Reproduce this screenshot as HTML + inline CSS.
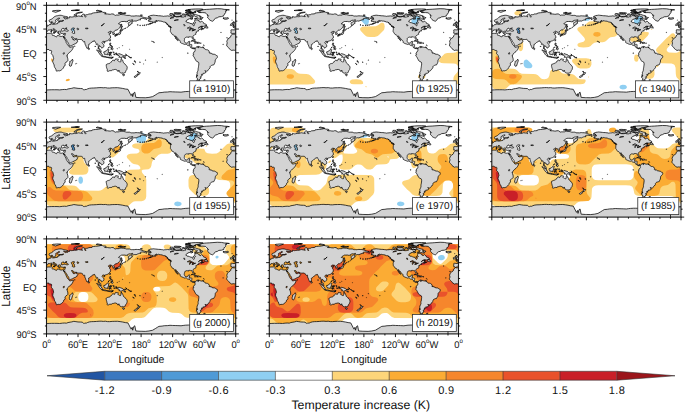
<!DOCTYPE html><html><head><meta charset="utf-8"><style>html,body{margin:0;padding:0;background:#fff;}body{width:685px;height:413px;overflow:hidden;position:relative;font-family:"Liberation Sans",sans-serif;}svg{position:absolute;left:0;top:0;}</style></head><body>
<svg width="685" height="413" viewBox="0 0 685 413" font-family="Liberation Sans, sans-serif" text-rendering="geometricPrecision">
<defs>
<clipPath id="pc"><rect x="0" y="0" width="360" height="180"/></clipPath>
<path id="landg" d="M-5.8 54.1L-6.3 54.8L-7.5 56.4L-9.4 57.6L-9.7 60L-10.5 61L-12.9 62.1L-14.5 63.9L-16 66L-17 69L-16.3 70.5L-16.5 73.5L-17.4 75.3L-16.8 77L-15.5 78.5L-14.5 79.4L-13.2 80.7L-12.2 82.4L-10.5 83.7L-7.6 85.6L-5 84.9L-2 85.2L1 84L3 83.6L4.8 84L5.9 85.7L7 85.6L8.5 85.5L9.6 86.2L9.8 87.7L9.3 90L9 91.5L11 93.8L12 95L12.3 96.1L13.1 98.8L13.6 101.2L12.5 103.5L11.8 106.8L12.6 109L13.5 111L14.5 112.9L14.9 116L15.8 118L16.6 119L17.9 121.5L18.2 122.8L18.4 124.2L19.6 124.8L20.7 124.4L22.5 124L24.8 124.2L25.7 123.8L27.2 123.3L28.6 122.3L30.1 121L31.5 119.3L32.5 118.3L32.7 116.5L32.9 115.9L35 114.6L35.5 113.4L35.4 111.5L35 110L36.5 108.8L37.4 107.6L39.3 106.6L40.6 105.2L40.7 102.5L40.4 100.5L39.5 98L39.2 96.8L38.9 95.5L39.6 94.3L40.3 92.7L41.6 91.6L42.6 90.4L44 88.9L46 87.7L47.8 85.6L49 84L50.1 81.9L51 79.6L51.2 78.2L49.5 78.6L48 78.8L46.5 79.2L45 79.6L44 79.5L43.3 78.4L42.7 77.5L41.6 76.5L40.8 75.5L39.7 74.6L39.2 73.5L38.5 71.9L37.4 70.4L37.2 69L36.9 68L35.6 66.1L35.2 65.2L34.2 63.5L33.6 62.3L32.6 60.1L32.3 58.8L31 58.4L29.7 58.8L28 59L25.2 58.4L23 57.4L21.5 57.2L20.1 57.7L20 59L19.1 59.7L17 59L15.6 58.5L15.2 57.7L13.1 57.1L11.5 56.9L10.2 55.7L11.1 54.8L10.8 53.5L10.2 52.8L9.5 52.7L8 53.1L5 53.2L3.1 53.2L1 53.5L-1.2 54.3L-2.2 54.9L-4.5 54.8L-5.8 54.1ZM49.3 102L48.5 103.5L47.7 104.6L46.3 105.7L44.9 106.2L44 106.7L44.4 108.5L43.9 110.2L43.3 111.6L43.6 113.4L44 114.9L45.4 115.6L47.1 114.9L47.7 113L48.6 110.5L49.4 108L49.8 106.8L50.5 105.5L50 103.5L49.3 102ZM-9.4 47L-8.98 47.4L-9 48.1L-8.8 48.8L-8.8 49.2L-9 50.2L-9.4 50.6L-9.5 51.3L-9.3 51.6L-8.8 51.7L-8.7 52.3L-8.9 53.1L-8.4 53L-7.9 53.2L-7.5 52.9L-6.5 53.1L-6.2 53.6L-5.9 54L-5.4 54.1L-5 53.7L-4.4 53.3L-2.1 53.3L-1.4 52.6L-0.7 52.4L-0.5 51.7L0.1 51.3L-0.3 50.7L0.1 49.9L0.7 49.3L0.8 49L2.1 48.8L3 48.1L3 47.5L3.1 46.9L4.6 46.6L6.5 46.9L7.4 46.3L7.9 46.2L8.4 45.8L8.9 45.6L9.7 46L10.2 46.1L10.5 47.1L11.2 47.6L12.1 48.3L12.9 48.7L13.6 48.8L14.1 49.2L14.7 49.4L15 49.8L15.4 50L16.1 51L15.9 51.2L15.7 51.8L15.7 52.1L16.1 52L16.6 51.2L17.1 51.1L17.2 50.6L16.4 50.2L16.9 49.6L17.7 49.7L18.3 50.2L18.5 49.8L18.4 49.6L17.5 49.1L16.8 48.8L15.9 48.5L16.2 48.3L15.9 48.04L15.1 48.05L14 47.2L13.5 46.4L12.6 45.9L12.3 45.4L12.4 45.1L12.3 44.6L13.7 44.4L13.68 44.52L13.66 44.86L13.95 45.2L14.3 44.8L14.9 44.9L14.9 45.3L15.4 45.7L15.2 45.8L16 46.5L16.9 46.8L17.5 47L18.5 47.5L18.9 47.7L19.4 48.1L19.5 48.3L19.4 48.6L19.3 49.3L19.4 49.7L19.96 50L19.98 50.3L20.2 50.4L20.2 50.7L20.7 51.2L21.1 51.7L21.3 52.4L21.7 53.2L22.5 53.6L23.2 53.6L22.8 52.7L23.4 52.6L23.1 52.1L24 52.3L24 51.8L23.3 51.2L23 51L23.4 50.8L22.8 50.3L22.6 49.7L22.8 49.5L23.7 49.3L25 49.1L26 49.2L26.6 49.6L26.2 50.5L26.8 51L26.3 51.8L27 52.3L27.6 53.3L28.7 53.3L29.7 53.9L30.4 53.7L30.6 53.3L31.7 53.4L32.5 53.9L33.5 53.8L34.6 53.2L35.8 53.3L36.2 53.4L36.1 54.2L35.9 54.6L35.9 54.8L35.5 56.1L35.1 56.9L34.9 57.2L34.6 58.5L34.3 58.8L32.99 59L32.3 58.7L32.4 60.1L33.1 61.6L33.9 62.4L34.2 62.2L34.4 61.7L34.6 60.9L34.9 60.5L34.8 61.4L34.6 61.9L35.1 61.9L35.6 62.6L36.2 63.4L36.6 64L36.9 64.4L37.2 64.9L37.2 65.1L37.5 65.7L38 65.9L38.5 66.3L39 67.4L39.1 68.7L39.8 69.7L40.2 69.8L40.9 70.5L41.2 71.3L41.8 72.2L42.3 72.5L42.3 72.9L42.6 73.2L42.8 73.7L42.8 74.1L42.7 74.3L42.8 74.7L42.6 74.8L42.9 75.2L43.1 75.9L43.3 76.2L43.2 76.8L43.5 77.4L44 77.4L44.5 77.3L45.1 77.1L45.4 77L45.9 76.7L46.7 76.6L47.4 76.4L47.9 76L48.2 76.1L48.7 76L49.6 75.3L52.2 74.1L52.4 73.6L53.1 73.3L53.6 73.3L54.2 73L54.8 73L55.3 72.8L55.4 72.4L56.5 71.9L56.6 71.4L57.7 71.1L57.8 70.9L57.7 70.3L57.8 69.8L58 69.5L58.5 69.6L58.9 68.9L59.3 68.6L59.8 67.7L59.5 67.3L58.7 66.4L58.1 66.3L57.4 66.1L56.4 65.1L56.5 64.7L56.4 63.6L56.1 63.9L55.4 64.6L54.7 65.2L54 65.9L52.6 65.8L51.8 66L51.4 65.4L51.6 64.2L51 64L50.8 65.2L50.5 64.7L50.2 64.4L50.1 64.1L50.2 63.3L49.5 62.9L49.3 62.5L48.8 62.3L48.4 61.4L48 60.5L47.3 59.94L47.97 60.02L48.6 60L48.9 59.7L49.6 60L50.1 59.9L50.9 61.2L51.5 62.1L52.5 62.4L53.5 63.2L54.7 63.5L55.7 63L56.5 62.9L56.97 63.03L57.4 64.3L58.5 64.4L59.6 64.6L61.5 64.9L62.9 64.8L64.5 64.8L66.4 64.6L67.1 65.3L67.4 66.1L68.2 66.3L69.3 67.2L69.6 67.5L69.2 67.9L70.5 69.1L71.2 69.2L72.6 68.6L72.8 69.6L72.8 70.8L73.1 72.1L73.5 74L74.4 75.4L74.6 75.4L74.9 77.3L75.4 78.2L75.7 78.7L76.1 79.7L76.6 81.1L77.5 82L77.9 81.7L78.3 81.1L79.2 80.8L78.9 80.5L79.3 79.7L79.9 79.6L79.9 77.9L80.3 77L80.2 76.2L80 74.9L80.3 74.1L80.8 74.1L81.7 73.7L82.2 73.4L82.2 73L83.2 72.3L83.9 71.7L85.1 70.5L86.5 69.8L88.2 68.3L88.9 68.3L89 67.9L89.7 68.1L89.8 68L90.3 68.2L90.6 67.6L90.5 67.2L91.4 67.2L92 68.3L92.1 68.8L92.4 69.3L93.1 70.1L93.7 70.3L93.5 70.6L94.3 71.8L94.5 72.7L94.2 74L94.8 74.2L95.4 74.3L96.5 73.6L97.2 73.1L97.6 73.9L97.8 75.2L98.1 76.4L98.5 76.9L98.4 78L98.8 78.6L98.5 79.3L98.6 80.1L98.3 81L98.2 81.6L98.3 82.2L98.5 81.6L99.5 82.7L99.7 83.2L100.1 83.5L100.3 84L100.2 84.7L100.6 85.2L100.7 86.1L101.3 86.7L101.4 87.2L102.6 88.1L103.5 88.8L104.2 88.4L103.9 87.5L103.5 87.2L103.3 86.3L103.4 85.8L103.4 85.1L102.4 83.9L102.1 83.8L101.6 83.3L101 83.1L100.5 82.6L100.3 81.7L99.9 80.8L99.2 80.8L99.5 79.1L100 77.7L100.1 76.6L100.9 76.6L100.8 77.4L101.7 77.4L102.6 77.8L103 78.9L103.5 79.4L104.3 79.5L105.1 80.1L104.8 80.8L105.2 81.4L106.4 80.5L107.2 79.6L108.4 78.9L109.2 78.3L109.3 76.6L108.9 74.7L108.3 74L107.4 73.3L106.4 72L105.7 70.9L105.9 70.2L106.6 69.3L107 68.5L108.5 68.3L109.9 68.6L109.6 69L109.9 69.7L110.4 69.7L110.8 68.6L111.8 68.4L113.2 67.9L114 67.7L114.8 67.4L115.9 67.2L117.3 66.4L118.7 65.4L119.6 64.1L120.5 62.8L121 62L121.7 61.8L122 60.1L121.5 59.8L121.9 59L121.9 58.3L120.9 57.5L120.6 56.6L120.3 55.7L119.2 55.1L120.2 54.1L121.1 53.4L122.5 53.1L122.5 52.6L120.8 52.2L119.7 52.9L118.9 52.6L118.2 52.4L117.7 51.8L117.6 51.1L118.6 50.8L119.6 50.1L120.6 49.4L121.6 49.1L122.2 49.6L121.4 50.4L121.2 51.2L121.6 51L122.9 50.3L124.3 50.1L124.8 50.3L125.2 51.5L125.5 52.3L126.8 52.7L126.2 53.2L126.8 54L126.3 54.7L126.5 55.6L128.2 55L129.3 54.8L129.5 54L129.2 52.6L128.3 51.4L127.5 50.7L128 50.2L129.2 49.4L129.7 49.1L129.7 49L130.8 47.7L132.3 46.7L134 47.1L135.5 46L137 44.4L138.6 43L140.1 41.6L140.5 40L140.6 38.8L141.4 37.8L141.3 36.9L139.9 35.8L138.8 35.8L137 35.2L138.2 33.6L140.5 32.2L141.5 31.5L143 30.7L145.6 30.7L149 30.6L151.3 31.2L152.8 31L154.9 30.8L154.2 30.2L156.7 28.6L159.2 28.2L160 28.4L162.3 27.6L164 27.4L163.6 28.9L161.9 29.7L160.1 30.7L158.2 32L156.8 32.2L155.9 33.2L155.6 34.5L156 36.2L156.4 37.5L156.7 39L158.3 38L158.5 37.1L160 36.8L160.3 35.8L161.9 35L162.1 33.9L163.5 33.8L163 32.4L162 31.8L163.3 30.5L164.8 30.1L166.2 30.1L168 29.6L170.5 30L172.5 29L174.5 28.2L177 27.5L179.3 27.7L178.7 27L178.5 25.5L180 25.1L181.5 25L183 24.7L185 25.1L187 25.6L188.5 24.5L190.3 23.9L188 23.8L186 23.2L184 22.6L182 21.8L180 21.1L178.5 20.7L176 20.2L173 20.1L170.5 19.9L168 20.2L166.5 20.5L164 20.3L162 20.4L160 20.2L159.5 19.5L158 19.1L155 19.1L152 19.1L150 18.4L147 17.7L145 17.7L142 17.3L139.5 17.6L138.5 18.4L136 18.5L134 18.5L132.5 18.5L131.5 19.1L129.5 18.7L128.5 17.2L127 16.5L124 16.3L122 17L119 16.9L116 16.4L113.5 16.5L112 16.3L110.5 16L113 15.5L113.5 14.4L112 13.6L110 13.4L107.5 13.5L106.5 12.7L104 12.3L101 13.1L99 13.5L96 13.8L93 14L89.5 14.4L87 14.8L86.5 16.1L83 16.4L80.5 16.5L79 17.6L77.5 17.7L76 17.9L74.8 17.7L73.9 18.8L73.8 19.6L74.6 20.6L75 21.5L74.2 22.7L73.5 21.7L72.7 20.5L72.5 18.8L72.5 17.4L71.5 16.7L69.5 16.8L68.6 17.2L67.2 18.4L66.8 19.4L67 20.2L68.7 21.2L68 21.7L66 21L64 20.7L61 20.2L60 20.3L58 21.2L55 21.7L53 21.4L50 22L48 22.3L46 21.8L43.8 21.5L44.2 22.5L44 23.8L42 23.6L40.6 25.4L39.5 25.5L37.5 25.4L36.5 26L34.8 25.6L33.7 24.5L32.5 23L33.5 23.3L35.5 23.7L38.5 23.9L40.5 23.5L41 22.5L39 21.7L36 21L33 20.6L31 19.8L30 19.5L28.5 19.1L26 18.9L24.7 19L23 19.2L21 19.7L19 20L17.5 20.5L16 21.2L14.5 22L13.5 22.8L12.5 24L11.2 25.1L10 26L8.5 26.6L7 27.2L5.6 27.7L5 28.5L5 29.5L5.6 31.2L6.5 31.9L8 31.9L10 31L10.5 30.7L11.2 31.1L11.8 32.3L12.6 33.8L12.9 34.6L14.3 34.5L15.9 33.9L16.4 33.4L16.6 32.1L17.9 31.1L18.8 30.2L17.3 29.4L17.2 29L17.8 27.4L19.5 26.5L21.2 25.5L22.3 24.3L24 24.2L25.4 24.7L24.5 25.2L22.5 26.2L21.5 27.5L21.4 29.4L23 30.1L26 29.6L28 29.5L30.2 30.1L28 30.5L26 30.5L23.5 30.8L24.3 32.5L23.5 33L22 32.4L21 33.2L21 34.8L18 35.2L14 36L11 35.8L10 35L10.8 34.4L10.3 33.7L10.5 32.4L8.1 33.2L8.6 34.5L8.7 35.5L8.5 36.4L7 36.5L5 36.7L4.5 37.7L3.5 38.5L2.5 39L1.5 39.8L0 40.6L-1.6 40.3L-1.5 41.3L-3 41.2L-4.7 41.4L-4.5 42L-3 42.4L-2.2 42.8L-1.2 44L-1.2 45.4L-1.5 46.6L-3 46.6L-6 46.4L-8 46.3L-9.3 47ZM-5.7 39.9L-4.5 39.7L-3.4 39.4L-1 39.2L1.4 38.8L1 38.2L1.7 37.3L0.3 36.9L0.1 36.4L-0.5 35.6L-1.2 35.4L-1.6 34.4L-2.6 33.7L-2 32.9L-1.8 32.4L-3.1 32.3L-4.2 32.4L-3 31.4L-5 31.4L-5.5 32.2L-5.6 33.7L-6.1 33.2L-5.8 34.3L-4.9 34.9L-5 35.2L-3.6 35.4L-3 36.6L-4.6 36.7L-4 37.6L-5.1 38.2L-3.3 38.6L-5.7 39.9ZM-6 37.8L-6.2 36.1L-5.7 35.4L-6.2 34.8L-7.3 34.7L-8.3 34.9L-8.5 35.5L-10 35.8L-9.6 36.6L-9.8 37.4L-10.3 38.1L-9.4 38.4L-8.3 38.3L-6.8 37.8L-6 37.8ZM-22 26.2L-20.8 26.2L-18.7 26.5L-14.9 25.6L-13.6 24.9L-14.7 24.2L-14.5 23.6L-16.2 23.5L-17.8 24L-19 23.7L-20.6 24.3L-22.1 23.6L-23.4 23.8L-24.3 24.4L-22.2 24.6L-23.5 25.1L-22.8 25.5L-22 26.2ZM-44 30.2L-42.2 29L-41 27.4L-40.2 25.8L-38 24.4L-35 23.7L-32 21.8L-27 21.4L-22.5 19.8L-23 18.8L-21.8 17.5L-22.2 16.7L-20.5 16L-19.5 14.8L-19 13.2L-18.4 12L-19.8 11.2L-17 10.1L-18.8 9.2L-12 8.6L-16 8L-22 7.7L-27 6.7L-35 6.4L-45 7.1L-50 7.5L-56 7.8L-60 8.1L-63 8.7L-65 9.3L-67 9.9L-71.5 11L-73.2 11.6L-69.5 12.4L-66.7 12.9L-71 13.1L-68.5 13.9L-62.6 13.8L-58 14.2L-56.5 15.1L-55.6 16.1L-54.8 17.4L-52.7 18.5L-54 19L-53.6 19.7L-51.3 20L-52.3 21L-53.5 22L-53.5 23L-53 24L-51.6 25.2L-50.3 27L-49 28.2L-47.2 29.1L-45.5 29.8L-44 30.2ZM11 11.2L13.5 12.2L15 12.6L17 13.4L20 12.5L22 11.7L24 11L27 9.9L22.5 9.6L18.5 9.7L16 10L12.5 10.2L11 11.2ZM52 18.6L55.8 19.4L57.5 19.3L56 18.5L56.5 17.3L58.5 16L61 14.9L64.5 14.2L68.5 13.1L66 13L62 13.4L58.5 14.2L56 15.5L55 16.8L53.5 17.4L52 18.6ZM94.5 10.4L99 11.3L101.5 12L105.5 11.7L104 10.8L100 10L97 9.4L94.5 10.4ZM136 14.7L138 15.2L141 16.1L143.5 16L149.5 14.9L146 14.7L143 14.2L139 14L136 14.7ZM47 9.8L50 10.1L56 10L62 9.7L63 8.9L58 8.7L52 9.1L47 9.8ZM178.5 18.8L180.5 19.1L182.5 18.8L180.5 18.4L178.5 18.8ZM141.9 44L142.7 43.4L143.5 43.8L143 42.5L142.6 41.5L143.4 40.7L144.6 41.1L143.2 38.3L143.2 36.8L142.6 35.6L142.2 35.8L142.6 36.3L141.7 36.7L141.9 38.5L142.1 40.8L141.9 42L141.9 44ZM140 48.6L141.2 48.2L141.4 47.4L143.3 48L145.5 46.7L144.6 46.2L143.2 45.6L141.9 44.5L141.6 44.8L141.4 46.5L140.4 46.7L139.9 47.4L140 48.6ZM141.4 48.6L140.3 48.8L139.9 49.4L140 50L139.7 51.1L138.9 52.2L138 53L136.9 52.7L136.7 53.3L135.7 54.5L134.6 54.3L132.6 54.6L131.2 55.6L130.9 56L132 56.1L133.9 55.6L135.1 55.4L135.2 56.2L136 56.5L136.8 55.7L137.3 55.4L138.8 55.4L139.9 55L140.7 54.3L140.9 53L141 51.7L141.9 51L141.9 50L141.4 48.6ZM129.7 56.8L130.2 57.6L130.2 58.8L131.1 59L131.5 58.1L131.8 56.6L131 56.1L130.4 56.4L129.7 56.8ZM132.3 56.8L132.9 57.3L134.1 56.7L134.8 56.2L134.2 55.7L132.6 56L132.3 56.8ZM120.1 67L120.7 68L121.2 67.5L121.9 65.2L121.3 64.7L120.1 66.1L120.1 67ZM108.6 70.7L109.5 71.8L110.6 71.4L111 70.3L110.4 69.8L109.3 70.1L108.6 70.7ZM79.7 83.1L79.9 83.5L80.6 84.1L81.6 83.5L81.8 82.5L81.2 81.4L80.1 80.2L79.9 81.5L79.7 83.1ZM120.6 71.5L120.4 72.4L120 74.1L120.6 75.5L121 76.2L122.5 76.8L123.3 76.4L124.1 77L122.7 75.7L121.7 75.7L121.8 74.1L122.3 73L122.2 71.5L120.6 71.5ZM122 83.1L122.3 82.7L123.9 83.1L124.2 83.8L125.4 84.4L126.1 83.9L126.6 82.7L126.3 81.5L125.4 80.2L124.2 81.9L123 82.1L122 83.1ZM122 79.6L122.5 80.3L123.6 80.7L124.9 80L125.7 79L125.5 77.8L124.3 77.5L123.1 79L122 79.6ZM117.2 81.6L117.8 81.2L119 79.6L119.6 78.6L118.9 79.6L117.2 81.6ZM109 88.3L109 89.6L109.4 90.7L110.2 91.7L110.2 92.9L111.7 93L113 93.1L114.5 93.5L116.1 94L116.6 92.4L116.2 91.7L116.7 91L117.5 90.8L117.5 89.9L117.9 89L118.9 89.1L117.8 87.9L118 87.7L117.9 85.9L118.6 85.5L119.2 84.6L118.4 84.3L117.3 83.1L116.7 83.1L116.2 83.9L115.5 84.6L115.4 85.2L114.6 85.7L114.2 85.5L113.3 86.2L112.1 87L111.2 87.3L111 88.4L109.7 88.1L109 88.3ZM95.3 84.5L95.4 85L96.4 86.1L97.2 86.7L97.7 87.5L98.6 88.2L99.3 89.8L100.1 90.6L100.9 92.1L101.4 92.8L102.6 94.2L103.9 95L104.7 95.9L105.8 95.8L105.9 94.3L106.1 93.1L105.6 92.4L104.9 92.3L104.4 91.1L103.4 90.7L103.8 89.9L103.1 89.4L102.5 88.6L101.4 87.9L100.6 87.9L99.7 86.8L98.4 85.7L97.5 84.8L96.4 84.8L95.3 84.5ZM105.2 96.8L105.4 96.9L106.3 96.9L106.5 97.4L108.7 97.7L111 98.2L112.6 98.4L114.5 98.8L114.5 97.8L112.9 97.6L112.6 96.9L110.8 96.5L110.5 96.9L108.6 96.8L108.5 96.4L107.3 95.96L106.1 95.9L105.2 96.8ZM115 98.4L116.5 98.9L119 99.6L121 100L123.5 100.3L125 99.5L127 98.4L125 98.3L123 98.3L121 98.5L119 98.5L117 98.4L115 98.4ZM123.6 100.4L125 99.7L126.6 98.9L127 98.3L124.5 99.3L123.6 100.4ZM119.4 95.4L120.4 95.5L120.3 93L120.9 92.6L121.9 94.2L122.7 94.7L123.2 95.3L122.8 94L122.4 93.5L121.4 91.9L122.4 91L123.3 90.9L121.5 90.9L120.6 91.4L120.2 89.8L120.9 88.7L122.9 89.1L124 89.1L125.1 88.4L124.4 89.6L123.7 89.8L121.4 89.5L120 89.4L119.7 90.2L119.5 91.9L119 93.5L118.8 92.8L119.4 95.4ZM127.6 88.2L127.4 89L127.6 90.2L128.1 90.9L128.9 90.8L128.1 89.6L128.7 89.1L128.3 88.4L127.6 88.2ZM127.8 93.3L129 93.5L130.8 93.9L130 93.1L127.8 93.3ZM131 91.2L131.8 91.6L132.2 92.2L133.7 92.2L133.8 92.5L133.1 92.5L132 92.8L132.75 93.3L132.8 93.7L132.98 94.1L133.4 94L133.7 93.5L135.2 94.5L135.99 94.5L137.9 95.4L138.4 96.2L138.7 97.3L138 97.6L137.6 98.4L138.9 98.4L139.1 98.1L140.1 98.3L141 99.1L142.1 99.2L142.6 99.3L143.4 99L143.3 98.2L143.9 97.9L144.7 97.6L146 98.1L146.6 98.9L147.1 99.5L147.9 100.1L149.8 100.4L150 100.7L150.8 100.3L149.7 99.9L150 99.7L149.3 99.5L149.3 99.1L148.7 99.1L148.1 98L147.2 97.4L146.9 96.7L147.9 96.6L147.6 96.1L145.9 95.5L145.8 95.3L144.6 93.9L142.7 93.3L141 92.6L139.9 92.4L138.3 91.7L137.4 91.5L135.5 93.4L134.4 92.8L134.1 90.9L132.5 90.4L131.9 90.6L131 91.2ZM148.3 95.6L150.2 96.3L152.1 95.3L152.3 94.3L151.6 94.8L150.8 95.4L149.8 95.5L148.3 95.6ZM114.2 111.8L113.5 113L113.7 114.4L113.4 115.6L114.2 116.3L114 117.3L114.6 118.5L114.9 119.5L115 120.5L115.7 121.6L115.7 123.3L115 124.2L116 124.9L117.7 125.1L119 124.5L120 123.9L121.3 123.8L123.7 123.9L124.2 123L125.1 122.7L126.1 122.2L127.1 122.3L128.9 121.7L131.3 121.5L132.6 122L134.3 122.6L134.6 123.2L135.2 124.5L135.2 124.9L136.4 124.8L137.5 124.1L137.9 123.6L137.8 122.9L137.9 124.4L137.5 125L138.1 125.6L138.4 125.1L139.6 126.1L139.8 127.2L140.6 128L141.7 128.3L142.7 128.5L143.6 128.8L144.9 128.4L145 127.9L145.4 128.2L146.3 129L146.4 128.7L147.4 128.2L148.3 127.8L149.4 127.8L150 127.4L150.1 126.4L150.7 125.2L150.9 124.3L151.6 123.3L152.5 122.3L152.9 121.5L153.1 120.4L153.6 118.1L153.1 116.1L152.9 115.3L152.3 114.5L151.6 114.1L150.9 113.5L150.5 112.6L149.7 112.3L149.3 111.3L148.7 110.6L147.5 109.5L146.4 108.9L146.1 107.8L145.9 106.9L145.5 106.3L145.3 105.4L145.3 104.9L144.6 104.2L143.9 104.5L143.6 103.8L143.6 102.9L143 102.3L142.5 100.7L142.1 101.3L141.7 102.4L141.7 103.3L141.5 104.6L141.6 105.6L141.4 106.4L140.9 107.4L139.3 107.4L138.7 106.8L137.8 106.2L137 105.9L136.3 105.6L135.4 104.7L135.5 104.2L136 103.7L136.5 103.3L136.8 102.9L136.5 102L136 102.1L135.5 102L134.7 101.9L134.4 102L133.6 101.8L132.6 101.6L132 101.3L131.8 102.3L130.7 102.3L130.4 102.9L130.2 103.4L129.9 103.6L129.4 104.4L129.6 105L128.9 105L128.1 104.9L127.8 104.3L127 103.8L126.1 104.2L125.7 104.2L125.6 104.6L124.4 105.6L124 106.3L123.4 107.3L122.8 107L122.2 108.2L121.4 109.2L120.9 109.7L120.1 110L119 110L118.2 110.4L117.4 110.7L116.7 110.6L115.6 111.4L114.6 112L114.2 111.8ZM144.7 130.7L144.7 131.2L145.4 132.7L146 133.5L147 133.6L147.9 133.2L148.3 132.2L148.3 130.9L146.4 131.1L144.7 130.7ZM172.7 124.5L173.1 125.3L173.8 126.1L174.3 126.5L174.3 126.7L174.7 127.4L174.7 128L174.6 128.8L173.8 129.5L174.6 129.9L175.1 130.5L174.7 131.3L175.2 131.7L176 131.3L177 129.9L177.9 129.2L178.3 128.6L178.5 127.7L177.4 128L175.9 127.6L175.3 126.5L174.6 126.2L174.3 125.3L173.1 125.2L172.7 124.5ZM172.8 130.5L172.1 130.9L171.9 131.5L171.6 131.8L171.1 132.5L170.5 133L169 133.6L168.3 134.1L167 135.1L166.5 135.9L166.7 136.2L167.8 136.3L168.4 136.6L169.3 136.6L169.8 136.4L170.6 135.9L171.2 134.9L171.5 134.2L172.3 133.9L173.1 133.9L172.7 133.4L173.2 133L173.9 132.2L174.2 131.8L174.2 131.3L173.2 131.3L172.8 130.5ZM164 110.1L165 111.5L166.7 112.4L167.1 112.2L165.5 111.2L164 110.1ZM177.3 107.3L177.4 108.1L178.3 108.2L178.6 107.7L177.3 107.3ZM-168.1 24.3L-166.8 24.9L-166.4 25.3L-164.96 25.6L-163.5 25.4L-162.8 25.7L-162.5 25.4L-161.4 25.2L-160.8 25.2L-161.5 25.6L-160.96 25.8L-160.8 26.2L-161.5 26.5L-162.3 26.5L-163.1 26.9L-163.8 26.8L-164.6 26.9L-164.9 27.4L-165.7 27.9L-166.1 28.5L-165.4 28.9L-165.3 29.5L-164.7 29.7L-163.8 30.2L-162.5 30.01L-161.9 30.4L-162 31.3L-161.4 31.3L-160.4 30.9L-159.98 31.4L-159.7 31.1L-159.1 31.6L-158.5 31.2L-158.2 31.4L-157 31.1L-157.6 31.7L-157.7 32.4L-158.5 32.8L-158.7 33L-160.1 33.6L-160.6 34L-161.8 34.1L-162.9 34.7L-163.8 35L-164.9 35.4L-164.8 35.6L-163.1 35.3L-162.2 35L-161.2 34.6L-160.3 34.4L-159.6 34.4L-158.4 34L-158.1 33.5L-156.6 33.02L-156.3 32.6L-155.3 32.3L-154.2 31.9L-153.3 31.1L-154 30.6L-152.6 29.9L-151.9 29.3L-150.6 28.7L-150.3 29L-151.4 29.3L-151.9 30.3L-151.7 30.8L-150.6 30.6L-149.7 30.3L-148.6 30.1L-148 30.02L-148.2 29.3L-147.1 29.1L-145.9 29.5L-143.96 30L-142.6 29.9L-139.9 30.5L-137.8 31.5L-136.6 31.8L-135 31.8L-134.1 31.9L-133.5 32.8L-132.3 33.6L-131.1 34.8L-130.5 35.2L-130.5 35.7L-129.3 36.4L-129.1 37.2L-127.9 37.7L-127.99 38.3L-127.4 39.2L-125.6 39.6L-124.9 40L-123.3 40.5L-122.8 41L-122.5 41.8L-122.3 42.6L-122.6 42.9L-123.1 42L-124.6 41.6L-124.7 41.8L-124.4 42.3L-124.1 43.1L-123.9 44.5L-124.1 46.3L-124.5 47.2L-124.2 48L-124.2 48.9L-124.4 49.7L-123.9 50.2L-123.7 51.05L-122.95 51.9L-122.5 52.2L-122.5 52.4L-121.7 53.8L-120.7 54.8L-120.6 55.4L-120.4 55.6L-119.4 55.7L-119.1 55.9L-118.5 56L-118.4 56.3L-117.9 56.4L-117.3 57L-117.1 57.5L-116.7 58.4L-115.5 60.4L-114.9 60.7L-114.2 61.4L-114.2 61.9L-114.6 62.3L-115.1 62.3L-114.5 62.9L-113.8 63.1L-113.6 63.4L-113.5 63.2L-112.3 64L-112.1 64.5L-112.2 65.3L-111.7 65.5L-110.9 66L-110.3 66.6L-110 67.2L-109.9 67.2L-109.4 66.8L-109.4 66.6L-109.8 66.2L-110.2 65.7L-110.7 65.7L-110.7 65.2L-110.99 64.7L-111.3 64.3L-111.6 63.3L-112.2 62.8L-112.5 62.5L-112.8 62.2L-112.96 61.6L-113.1 61.6L-113.3 61.2L-113.4 61.2L-113.6 60.9L-114.3 60.2L-114.7 59.8L-114.9 58.6L-114.8 58.2L-114.2 58.5L-113.9 58.4L-113.1 58.8L-113.2 59.2L-112.8 60L-112.3 60.7L-112.2 61L-111.8 61.5L-111.2 62.1L-110.6 62.1L-110.4 62.8L-109.8 63.3L-109.3 63.6L-109.4 64.2L-109.3 64.4L-108.4 64.8L-107.9 65.5L-106.9 66.2L-106 67.2L-105.7 67.7L-105.6 68.1L-105.3 68.6L-105.3 68.9L-105.5 69.2L-105.4 69.5L-105.7 69.6L-105.5 70.1L-104.99 70.7L-103.9 71.3L-103.5 71.7L-102.5 72.02L-101.9 72.1L-101.7 72.4L-100.8 72.8L-99.7 73.3L-98.9 73.4L-98 73.9L-97.3 74.1L-96.6 74.3L-96.1 74.2L-95.3 73.9L-94.7 73.8L-93.9 74.1L-93.4 74.4L-92.2 75.5L-91.7 75.9L-91.2 76.1L-90.6 76.1L-90.1 76.3L-89.3 76.5L-88.5 76.8L-87.8 76.6L-87.5 76.7L-87.3 77L-87.4 77.1L-87.6 76.9L-87.7 77.1L-87.2 77.5L-86.7 77.9L-86.5 78.2L-85.7 78.9L-85.9 79.1L-85.7 79.2L-85.8 79.9L-85.7 80.1L-85.3 80.2L-85.1 80.4L-84.9 80.2L-84.98 79.9L-84.7 80.1L-84.6 80.4L-84.3 80.5L-83.9 80.7L-83.6 80.9L-83.6 81.2L-83.7 81.3L-83.5 81.6L-82.9 81.9L-82.8 81.7L-82.4 81.7L-82.1 81.8L-81.7 81.9L-81.5 82.3L-81.2 82.4L-81.1 82.2L-80.9 82.8L-80.3 82.6L-80 82.5L-80.5 81.9L-80.4 81.7L-80.2 81.7L-79.6 81.1L-78.9 81.6L-78.4 82L-78.2 82.5L-78.4 81.9L-78.2 81.7L-77.5 81.5L-77.4 81.3L-77.9 80.8L-78.5 80.6L-79 80.4L-79.6 80.4L-80.5 80.9L-80.9 81.1L-81.4 81.2L-81.7 81L-82.5 80.4L-83.4 79.6L-83.8 78.9L-83.9 78.6L-83.7 78.4L-83.7 78.1L-83.6 77.7L-83.5 77.6L-83.5 77.1L-83.6 76.9L-83.5 76.4L-83.5 75.8L-83.1 75L-83.4 74.7L-83.8 74.6L-84.4 74.2L-84.9 74L-85.4 74.1L-85.7 74.05L-86 74L-86.4 74.2L-86.9 74.2L-87.6 74.1L-87.9 74.1L-88.1 74.3L-88.6 74.3L-88.9 74.1L-88.7 74L-88.4 73.5L-88.2 73L-88.3 72.4L-88.3 71.5L-88.1 71.5L-87.8 71.7L-87.6 70.4L-87.4 69.7L-86.8 69.2L-86.8 68.7L-87.1 68.5L-87.7 68.5L-88.5 68.5L-89.6 68.7L-90.3 69L-90.5 69.3L-90.5 70.1L-90.8 70.7L-91.4 71.1L-92 71.3L-92.8 71.5L-93.5 71.6L-94.4 71.9L-94.8 71.4L-95.9 71.2L-96.3 70.7L-96.5 70.1L-97.2 69.4L-97.4 68.6L-97.7 68.1L-97.9 67.6L-97.8 67.1L-97.7 65.7L-97.5 65L-97.2 64.1L-97.4 63.3L-97.4 62.6L-97.1 62.2L-96.6 61.7L-95.6 61.3L-94.7 60.5L-93.8 60.3L-93.2 60.2L-92.5 60.4L-91.6 60.3L-90.9 60.9L-90.2 60.9L-89.8 60.7L-89.4 60.8L-89.2 60.7L-89.4 60.5L-89.4 60.1L-89.6 59.8L-89.2 59.7L-88.4 59.6L-87.5 59.7L-86.4 59.6L-85.8 59.8L-85.3 60.3L-85.1 60.4L-84.1 59.9L-83.7 60.1L-82.9 60.9L-82.7 61.4L-82.9 62.1L-82.7 62.5L-82.2 63.3L-81.7 64.1L-81.3 64.4L-81.2 64.8L-80.7 64.9L-80.4 64.8L-80.1 64.2L-80.1 63.8L-80.1 63.1L-80.5 62L-80.5 61.5L-80.98 60.8L-81.3 60L-81.5 59.3L-81.3 58.6L-80.9 58L-80.3 57.5L-79.2 56.8L-78.6 56.1L-78.1 56.1L-77.4 55.5L-76.2 55.1L-75.5 54.8L-75.7 54L-76 53.1L-75.9 52.8L-75.5 52.1L-75.1 51.7L-75.3 51.1L-75.5 50.5L-75.1 51.2L-74.9 51.1L-74.2 50.5L-74 49.9L-74 49.4L-73.7 49.1L-72.9 48.8L-71.1 48.5L-70 48.4L-70.1 48.2L-70.5 48.2L-70.8 47.7L-70.7 46.9L-70.1 46.3L-69.1 46L-67.8 45.5L-67.1 44.9L-66 44.7L-64.4 44.7L-66.2 45.5L-66.1 46.4L-65.4 46.5L-64.2 45.7L-63.3 45.3L-61 44.7L-59.8 44.1L-60.5 44L-61.5 44.1L-63.2 44.3L-64.5 43.8L-64.8 43L-65.1 41.9L-64.2 41.3L-65.1 40.8L-66.6 40.9L-68.7 41.7L-70.3 43L-71.1 43.2L-69.95 42.3L-68.5 40.9L-67.2 40.5L-66.4 39.8L-65.4 39.7L-63.9 39.7L-61.7 39.9L-60 39.8L-58.8 38.9L-57.1 38.6L-55.7 37.9L-55.8 36.7L-56.2 36.4L-56.9 36.2L-57.3 35.4L-57.98 35.1L-59.6 34.8L-60.5 34.2L-61.8 33.7L-61.4 33.03L-63.8 30.6L-64.6 29.7L-65.2 30.1L-66.2 31.2L-67.6 31.8L-68.4 31.2L-69.3 31.04L-69.6 28.9L-71.4 28.9L-72 28.1L-73.8 27.5L-74.7 27.8L-75.7 27.7L-77.4 27.4L-78.1 27.7L-77.8 29.2L-77.3 30.1L-78.5 31.2L-77.3 31.9L-76.6 32.8L-76.5 33.7L-78.2 34.9L-79.8 35.3L-79.1 35.9L-78.6 37.4L-79.1 38.5L-80 38.7L-81.4 37.8L-82.1 36.7L-82.4 35.7L-82.3 34.9L-85 34.7L-87.3 34L-88 33.5L-89 33.1L-90.9 32.7L-92.3 32.9L-92.8 32.2L-93.2 31.2L-94.7 31.1L-94.6 29.9L-94.2 29.1L-92.5 27.8L-90.8 27.1L-90.7 26.4L-87.9 25.8L-87 24.8L-86 23.8L-84 23.7L-81.5 23.2L-82 22.7L-81.2 21.3L-81.3 20.8L-82.6 20.3L-84.9 20.1L-86 21.2L-88 20.8L-88.7 19.6L-91.5 19.8L-92.9 19.1L-93.8 18.2L-95.2 18L-96.5 18.5L-96.5 19.9L-94.8 20.5L-95 21.3L-96 21.8L-98 21.4L-98.5 22.2L-101.5 22.3L-104 22L-106 21.2L-107.5 21.7L-110 22L-113.5 21.8L-115 21.2L-117.5 21L-120 20.6L-122.5 20.2L-124.5 19.9L-125 20.3L-126.5 20.5L-129 20.2L-130 20L-132 20.4L-134 20.5L-135.6 20.6L-137.5 21L-139 20.5L-141 20.3L-144 19.9L-147 19.8L-149.6 19.5L-152.3 19.2L-155 18.9L-156.8 18.7L-159 19.1L-162 19.4L-163.4 20.2L-166 21L-166.6 21.7L-164.5 21.8L-163.6 22.9L-161.8 23.8L-163 23.9L-164.5 23.4L-166.5 23.8L-168 24.4ZM-77.4 81.3L-77.9 82.8L-77.5 83.3L-77.3 84.2L-77.5 84.4L-77.3 85.3L-77.5 85.9L-77.1 86.2L-77.5 86.7L-77.9 87.3L-78.4 87.4L-78.7 87.7L-78.6 88.2L-78.9 88.3L-78.9 88.6L-79.5 89L-80.1 89.2L-80 89.6L-80.4 90.3L-80.6 90.9L-80.9 91.1L-80.8 91.97L-81 92.2L-80.4 92.7L-79.99 92.2L-79.8 92.7L-80.3 93.4L-81.1 94L-81.4 94.7L-80.9 95.7L-81.2 96.1L-80.5 96.5L-79.8 97.2L-79.4 97.9L-79 98.4L-78.1 100.4L-77.1 102.2L-76.3 103.5L-76.4 103.8L-76 104.6L-75.2 105.3L-73.4 106.4L-71.5 107.4L-71.4 107.8L-70.4 108.3L-70.2 109.8L-70.1 111.4L-70.4 113.6L-70.7 115.7L-70.9 117.6L-71.5 118.9L-71.4 120.1L-71.7 120.9L-71.4 122.4L-71.9 123.9L-72.6 125.5L-73.2 127.1L-73.6 127.2L-73.5 128.3L-73.2 129.3L-73.7 129.9L-74.3 133.2L-73.7 133.4L-73.4 132.1L-72.7 132.4L-73.2 134.5L-74.4 134.1L-74.7 135.8L-75.6 136.6L-74.8 136.3L-74 137L-73.4 138L-72.6 138.9L-73.4 139.3L-73.3 140.4L-72.3 140.7L-72.3 141.4L-71.9 142L-69.5 142.1L-68.6 142.3L-68.1 142.3L-68.8 141.8L-69.1 140.7L-68.7 140.3L-67.8 139.9L-67.2 138.7L-66 138.1L-65.6 137.2L-66.6 137L-67.6 136.3L-67.3 135.6L-66.5 135L-65.6 135L-65.3 134.5L-65.2 133.5L-64.4 132.9L-63.5 132.6L-63.8 132L-64.3 132.4L-64.98 132.1L-65.1 131.1L-64.7 130.8L-63.8 131.2L-62.7 131L-62.1 130.7L-62.3 130.2L-62.1 129.4L-62.3 128.8L-61.2 128.9L-59.2 128.7L-57.7 128.2L-56.8 126.9L-56.7 126.4L-57.4 125.98L-57.2 125.3L-58.5 124.4L-58.4 123.9L-57.8 124.5L-57.1 124.4L-56.2 124.9L-55.7 124.8L-54.9 125L-53.8 124.4L-53.4 123.8L-52.7 123.2L-52.3 122.2L-51.6 121.8L-50.7 120.98L-49.6 119.2L-48.9 118.7L-48.7 118.2L-48.5 117.2L-48.6 116.6L-48.5 115.9L-47.6 114.9L-46.5 114.1L-45.4 113.8L-44.6 113.4L-43.1 112.97L-41.99 112.97L-41.8 112.4L-40.9 111.9L-40.8 110.9L-39.8 109.6L-39.6 108.3L-39.3 107.9L-38.95 105.7L-39 103.8L-38.7 103.1L-38.4 103L-37.7 102.2L-37 101L-35.6 99.6L-35.1 99L-34.7 97.3L-34.9 96.7L-35.2 95.5L-35.6 95.1L-36.5 95.1L-37.2 94.8L-38.5 93.7L-39.98 92.9L-41.5 92.9L-43.4 92.4L-44.6 92.7L-44.4 92.1L-44.9 91.6L-46.6 90.9L-47.8 90.6L-48.6 91.2L-48.6 90.2L-50.4 90.1L-50.7 89.8L-49.9 89L-49.97 88.3L-50.5 88.1L-51.1 86.3L-51.3 85.8L-51.7 85.8L-51.8 85.4L-52.9 84.6L-53.6 84.4L-53.96 84.24L-55 84L-55.9 84.2L-57.1 84.03L-58.1 83.2L-58.5 83.2L-58.5 82.7L-59.1 82L-59.8 81.6L-60.2 81.4L-60.7 81.4L-60.8 80.6L-61.6 80.1L-62.4 80.1L-62.7 79.6L-61.9 79.3L-63.1 79.3L-64.3 79.4L-64.3 79.6L-64.9 79.9L-65.7 79.8L-66.2 79.4L-67.3 79.5L-68.2 79.4L-68.2 79.1L-68.9 78.6L-69.6 78.5L-69.9 77.8L-70.3 78.2L-70.2 78.6L-71.4 79.03L-71 80.1L-71.3 80.9L-71.7 80.9L-72 80.1L-71.6 79.6L-71.6 79.03L-71.9 78.6L-71.3 78.2L-71.1 77.9L-71.4 77.6L-71.8 77.6L-72.2 78.05L-73.4 78.8L-74.2 78.7L-74.3 78.9L-74.9 78.9L-75.5 79.4L-75.7 80.6L-76.1 80.7L-76.8 81.4L-77.4 81.3ZM-68.6 142.6L-69.3 142.5L-70.3 142.9L-71.1 143.1L-74.5 142.8L-74 143.3L-72.3 144.5L-70.8 145L-69.2 145.5L-67.6 145.6L-66.5 145.3L-65.5 145.2L-65.1 144.7L-66.4 144.4L-67.7 143.9L-68.3 143.1L-68.6 142.6ZM-61.2 141.9L-59.9 142L-58.5 142L-57.8 141.6L-58.6 141.1L-60 141.3L-61.2 141.9ZM-80 16.4L-78.8 17.6L-80.7 17.9L-80.6 17.3L-82.3 16.2L-84.9 16.7L-85.8 17.5L-86.6 16.8L-85.8 16.2L-88.4 16.5L-89.4 16.9L-90.2 17.8L-89.9 18.8L-88.5 18.8L-89.5 19.2L-88.7 19.6L-84.9 20L-81.3 20.3L-79.5 20.1L-78 20.2L-76.9 21.1L-74.8 21.4L-72.9 22.3L-72.7 22.7L-74.3 24L-73.9 24.5L-76 24.7L-77.9 24.7L-78.6 25.4L-77.7 25.8L-74.8 25.3L-72.2 26L-71 25.8L-68.8 26.3L-66.3 27.1L-65 27L-65.3 25.6L-68.1 24.3L-68 23.7L-66.7 23.6L-65.1 24.6L-63.9 25L-62.2 23.8L-61.9 23.1L-63.4 23.1L-64.9 22.2L-66.4 21.9L-68.8 21.3L-66.8 20.8L-67.9 19.9L-68.8 19.5L-71.2 19.1L-74.2 18.2L-76.3 17.2L-80 16.4ZM-78 13.5L-75.4 13.3L-79 12.4L-75.5 11.6L-76.2 11L-75.5 10.8L-71.3 10.2L-68.1 9.6L-65 8.7L-62 7.7L-64 7.1L-70 6.9L-77 7L-84 7.4L-91 8.2L-86 9L-90 9.4L-96 9.8L-95 10.6L-88 11.4L-87 12L-84 12.5L-88 12.9L-89.5 13.4L-81.5 13.6L-78 13.5ZM-80.3 15.4L-79.3 14.8L-80.6 13.8L-84 13.5L-89 13.8L-92 13.4L-95 13.1L-96 13.7L-92.8 14.2L-92.8 15L-91 15.2L-88 15.6L-84 15.5L-80.3 15.4ZM-118 20.3L-115.7 20.5L-113 21.5L-110 21.1L-106 21L-102 20.7L-101.5 20L-105 19.2L-105.5 17.5L-106.5 16.8L-107.5 16.7L-112 17L-114.6 16.6L-117.7 17.4L-119 18.4L-117.5 18.7L-118.5 19.1L-116 19.3L-117.4 19.9L-118 20.3ZM-125 18.5L-123.2 18.9L-120.8 18.5L-120.5 17.5L-118.5 16.7L-119.6 15.9L-121.5 15.6L-124.9 15.7L-124.5 16.5L-125.6 17.7L-125 18.5ZM-117.3 14.2L-117 15.2L-113 15.6L-110 15.4L-106 15.5L-103.5 14.9L-106 14.1L-110 14L-114 13.7L-117.3 14.2ZM-95 9.1L-95 10.5L-92.5 11.5L-89 11.7L-86 11L-87 10.2L-88.5 9.5L-92 8.7L-95 9.1ZM-97 17.1L-98 16.2L-101 16.6L-102.5 17.2L-101 18L-98.5 18.7L-96.5 17.8L-97 17.1ZM-93.5 16.1L-95.5 16.3L-94.5 17.4L-92.5 17.7L-90.3 16.9L-90.5 16.1L-93.5 16.1ZM-86.5 25.7L-85.8 26.4L-84.6 26.7L-83.1 25.9L-81.2 25.6L-83.4 24.6L-85.9 24.3L-86.5 25.7ZM-59.4 42.4L-58.4 42.4L-56.3 42.4L-55.4 43.1L-54.2 42.6L-53 43.4L-52.6 42.5L-53.2 42L-53.7 41.4L-53.5 40.7L-55.8 40L-56 39.4L-55.5 38.4L-56.4 38.2L-57.4 39.3L-58 40.4L-59.3 41.5L-59.4 42.4ZM-123.5 41.5L-124.5 40.6L-125.5 40L-127.3 39.4L-128.4 39.2L-126.8 40.3L-125.5 41L-124.5 41.4L-123.5 41.5ZM-84.97 68.1L-83.9 67.8L-83.5 67.8L-82.8 67.3L-81.8 67.4L-82.2 67.6L-81.8 67.8L-80.5 68L-80.2 68.2L-79.3 68.4L-78.7 68.4L-78.5 69L-78.1 69.3L-77.5 69.3L-77.1 69.6L-77.8 70.1L-76.3 70.05L-75.6 70.1L-74.96 70.1L-74.3 69.95L-74.2 69.7L-74.9 69.3L-75.6 69L-76.5 68.8L-77.1 68.3L-78.3 67.6L-79.7 67.2L-80.6 66.9L-81.4 66.9L-82.5 66.9L-83.8 67.2L-84.4 67.8L-84.97 68.1ZM-74.5 71.7L-73.4 71.8L-72.4 71.8L-71.7 72L-71.4 72.4L-70.7 71.6L-70 71.8L-69.2 71.6L-68.7 71.8L-68.3 71.4L-69.2 70.7L-69.95 70.4L-70.2 70.4L-70.8 70.1L-71.7 70.3L-72.6 70.1L-73.4 70.4L-72.8 70.9L-72.7 71.6L-73.4 71.5L-74.5 71.7ZM-77.6 71.5L-78.3 71.8L-77.5 72.1L-76.8 72.1L-76.4 71.8L-76.9 71.6L-77.6 71.5ZM-66.3 71.5L-67.1 71.5L-67.2 72L-66 72.03L-65.6 71.8L-66.3 71.5ZM-155.5 70.9L-154.8 70.5L-155.5 69.9L-155.9 69.7L-156 70.3L-155.5 70.9ZM12.4 52.1L15.1 53.3L15.6 51.7L12.4 52.1ZM8.4 51L9.6 50.9L9.8 49L8.2 49L8.4 51ZM8.6 48.6L9.4 48.6L9.5 47.1L8.6 47.5L8.6 48.6ZM23.5 54.6L24.5 55.1L26.3 54.7L23.5 54.6ZM32.3 55.3L33.9 55L34.6 54.3L32.3 55.3ZM150.5 92.7L151.5 93.3L153 94.8L152 93.5L150.5 92.7ZM154.5 95.2L155.2 96.6L155.8 96.5L154.5 95.2ZM-165.3 36.2L-165.65 35.92L-166.5 35.8L-167.35 35.92L-167.7 36.2L-167.35 36.48L-166.5 36.6L-165.65 36.48ZM-169 37.2L-169.29 36.95L-170 36.85L-170.71 36.95L-171 37.2L-170.71 37.45L-170 37.55L-169.29 37.45ZM-172.5 37.8L-172.79 37.55L-173.5 37.45L-174.21 37.55L-174.5 37.8L-174.21 38.05L-173.5 38.15L-172.79 38.05ZM-175.8 38.1L-176.09 37.89L-176.8 37.8L-177.51 37.89L-177.8 38.1L-177.51 38.31L-176.8 38.4L-176.09 38.31ZM179.2 38.2L178.91 37.95L178.2 37.85L177.49 37.95L177.2 38.2L177.49 38.45L178.2 38.55L178.91 38.45ZM174.5 37.2L174.21 36.95L173.5 36.85L172.79 36.95L172.5 37.2L172.79 37.45L173.5 37.55L174.21 37.45ZM-161.7 35L-161.93 34.79L-162.5 34.7L-163.07 34.79L-163.3 35L-163.07 35.21L-162.5 35.3L-161.93 35.21ZM148.38 44.22L148.02 44.17L147.36 44.44L146.78 44.85L146.62 45.18L146.98 45.23L147.64 44.96L148.22 44.55ZM151.2 43.12L150.89 43.04L150.36 43.24L149.9 43.59L149.8 43.88L150.11 43.96L150.64 43.76L151.1 43.41ZM154 41.46L153.73 41.39L153.33 41.55L153.03 41.86L153 42.14L153.27 42.21L153.67 42.05L153.97 41.74ZM155.92 39.37L155.64 39.35L155.28 39.59L155.05 39.96L155.08 40.23L155.36 40.25L155.72 40.01L155.95 39.64ZM158.82 98.52L158.57 98.06L157.69 97.45L156.7 97.04L156.18 97.08L156.43 97.54L157.31 98.15L158.3 98.56ZM161.35 99.75L161.09 99.38L160.32 99.02L159.47 98.88L159.05 99.05L159.31 99.42L160.08 99.78L160.93 99.92ZM161.6 98.9L161.42 98.62L161 98.5L160.58 98.62L160.4 98.9L160.58 99.18L161 99.3L161.42 99.18ZM167.9 105.8L167.78 104.95L167.5 104.6L167.22 104.95L167.1 105.8L167.22 106.65L167.5 107L167.78 106.65ZM169.2 107L169.05 106.58L168.7 106.4L168.35 106.58L168.2 107L168.35 107.42L168.7 107.6L169.05 107.42ZM169.7 109L169.58 108.72L169.3 108.6L169.02 108.72L168.9 109L169.02 109.28L169.3 109.4L169.58 109.28ZM-155.9 69.2L-156.02 68.99L-156.3 68.9L-156.58 68.99L-156.7 69.2L-156.58 69.41L-156.3 69.5L-156.02 69.41ZM-157.6 68.5L-157.72 68.29L-158 68.2L-158.28 68.29L-158.4 68.5L-158.28 68.71L-158 68.8L-157.72 68.71ZM-159.2 67.9L-159.29 67.69L-159.5 67.6L-159.71 67.69L-159.8 67.9L-159.71 68.11L-159.5 68.2L-159.29 68.11ZM-90.4 90.6L-90.58 90.18L-91 90L-91.42 90.18L-91.6 90.6L-91.42 91.02L-91 91.2L-90.58 91.02ZM-15.1 62L-15.22 61.79L-15.5 61.7L-15.78 61.79L-15.9 62L-15.78 62.21L-15.5 62.3L-15.22 62.21ZM-16.7 61.7L-16.79 61.49L-17 61.4L-17.21 61.49L-17.3 61.7L-17.21 61.91L-17 62L-16.79 61.91ZM-23.5 74L-23.65 73.72L-24 73.6L-24.35 73.72L-24.5 74L-24.35 74.28L-24 74.4L-23.65 74.28ZM-27.4 51.4L-27.58 51.19L-28 51.1L-28.42 51.19L-28.6 51.4L-28.42 51.61L-28 51.7L-27.58 51.61ZM93.1 78L93.01 77.29L92.8 77L92.59 77.29L92.5 78L92.59 78.71L92.8 79L93.01 78.71ZM57.8 110.2L57.71 109.99L57.5 109.9L57.29 109.99L57.2 110.2L57.29 110.41L57.5 110.5L57.71 110.41ZM55.8 111.1L55.71 110.89L55.5 110.8L55.29 110.89L55.2 111.1L55.29 111.31L55.5 111.4L55.71 111.31ZM-6.6 28L-6.72 27.79L-7 27.7L-7.28 27.79L-7.4 28L-7.28 28.21L-7 28.3L-6.72 28.21ZM54.6 77.5L54.37 77.29L53.8 77.2L53.23 77.29L53 77.5L53.23 77.71L53.8 77.8L54.37 77.71ZM39.6 96L39.51 95.72L39.3 95.6L39.09 95.72L39 96L39.09 96.28L39.3 96.4L39.51 96.28ZM-171.1 103.8L-171.28 103.59L-171.7 103.5L-172.12 103.59L-172.3 103.8L-172.12 104.01L-171.7 104.1L-171.28 104.01ZM-174.9 111.2L-174.99 110.99L-175.2 110.9L-175.41 110.99L-175.5 111.2L-175.41 111.41L-175.2 111.5L-174.99 111.41ZM-149.1 107.6L-149.22 107.39L-149.5 107.3L-149.78 107.39L-149.9 107.6L-149.78 107.81L-149.5 107.9L-149.22 107.81ZM-139.6 99L-139.72 98.79L-140 98.7L-140.28 98.79L-140.4 99L-140.28 99.21L-140 99.3L-139.72 99.21ZM134.8 82.5L134.71 82.22L134.5 82.1L134.29 82.22L134.2 82.5L134.29 82.78L134.5 82.9L134.71 82.78ZM145.1 76.6L145.01 76.32L144.8 76.2L144.59 76.32L144.5 76.6L144.59 76.88L144.8 77L145.01 76.88ZM158.5 83.1L158.41 82.89L158.2 82.8L157.99 82.89L157.9 83.1L157.99 83.31L158.2 83.4L158.41 83.31ZM138.4 80.5L138.31 80.29L138.1 80.2L137.89 80.29L137.8 80.5L137.89 80.71L138.1 80.8L138.31 80.71ZM-60.7 75.4L-60.79 74.98L-61 74.8L-61.21 74.98L-61.3 75.4L-61.21 75.82L-61 76L-60.79 75.82ZM-60.8 79.6L-60.95 79.39L-61.3 79.3L-61.65 79.39L-61.8 79.6L-61.65 79.81L-61.3 79.9L-60.95 79.81ZM-77.6 65L-77.72 64.43L-78 64.2L-78.28 64.43L-78.4 65L-78.28 65.57L-78 65.8L-77.72 65.57ZM-77 66L-77.12 65.65L-77.4 65.5L-77.68 65.65L-77.8 66L-77.68 66.35L-77.4 66.5L-77.12 66.35ZM-59.4 76.8L-59.46 76.66L-59.6 76.6L-59.74 76.66L-59.8 76.8L-59.74 76.94L-59.6 77L-59.46 76.94ZM-129.5 36.2L-129.68 35.49L-130.1 35.2L-130.52 35.49L-130.7 36.2L-130.52 36.91L-130.1 37.2L-129.68 36.91ZM-131.74 34.14L-131.73 33.69L-132.18 33.12L-132.81 32.77L-133.26 32.86L-133.27 33.31L-132.82 33.88L-132.19 34.23ZM-152.12 32.02L-152.55 31.85L-153.24 32.06L-153.79 32.53L-153.88 32.98L-153.45 33.15L-152.76 32.94L-152.21 32.47ZM-164.2 30L-164.43 29.72L-165 29.6L-165.57 29.72L-165.8 30L-165.57 30.28L-165 30.4L-164.43 30.28ZM-168.7 26.5L-169.08 26.22L-170 26.1L-170.92 26.22L-171.3 26.5L-170.92 26.78L-170 26.9L-169.08 26.78ZM-79 33.5L-79.29 33.15L-80 33L-80.71 33.15L-81 33.5L-80.71 33.85L-80 34L-79.29 33.85ZM-62.8 40.6L-63.15 40.39L-64 40.3L-64.85 40.39L-65.2 40.6L-64.85 40.81L-64 40.9L-63.15 40.81ZM-62.2 43.6L-62.49 43.39L-63.2 43.3L-63.91 43.39L-64.2 43.6L-63.91 43.81L-63.2 43.9L-62.49 43.81ZM143 14L142.41 13.58L141 13.4L139.59 13.58L139 14L139.59 14.42L141 14.6L142.41 14.42ZM151.5 14.8L151.06 14.45L150 14.3L148.94 14.45L148.5 14.8L148.94 15.15L150 15.3L151.06 15.15ZM61 9.5L60.12 9.15L58 9L55.88 9.15L55 9.5L55.88 9.85L58 10L60.12 9.85ZM-20 185L380 185L380 160L375 160L370 160L365 160.2L360 160.5L354 161L349 161.5L345 162.6L340 163.8L335 165L331 165.8L327 166.5L324 167.5L320 168L315 168.3L308 168L302.5 153.4L301 154.5L300 168.5L299 162.5L298.5 164.5L297 160.5L296 167.5L295 166L293.5 157.5L293 159.5L292 161.5L288 161.5L284 163L280 163.3L274 163.2L270 163.2L264 163.5L260 164L256 164.6L250 164.3L246 164.2L240 164L235 163.7L230 164.3L224 164.5L220 165.2L214 165.7L211 167.5L207 170L202 173L195 174.5L188 175.2L180 175L178 175L170 174.5L168 164.6L166 166L164 173L163 167.5L161 171L160 169L155 159.2L150 158.6L145 157.5L140 156.7L135 156.1L130 156.2L125 156.3L120 156.8L116 156.7L112 156L108 156.3L104 155.9L100 156L95 156.4L90 156.7L86 156.8L82 157.2L78 158.4L76 159.5L73 159.5L72 160.2L70 159.7L68 157.8L65 157.6L60 157.4L56 156.8L52 156.2L48 157.3L45 157.8L41 158.5L38 159.7L34 159.4L30 159.7L25 160.3L20 160L15 160L10 160L5 160.2L0 160.5L-6 161L-11 161.5L-15 162.6L-20 163.8ZM28 48.4L27.9 47.3L28.6 46.3L28.8 45.1L29.7 44.7L30.4 43.8L31.5 43.4L32.9 44L32.5 44.6L33.4 45L33.6 45.5L35 45.2L36.3 44.8L35.4 44.7L35 44.3L35.5 43.8L37 43.4L38.6 42.9L39.1 43L37.9 43.8L38.2 44.2L37.3 44.7L36.9 45.1L38.1 45.7L39.5 46.5L40.6 47L41.5 47.7L41.6 48.4L40.4 49L39 48.9L37.5 48.9L36.1 48.3L35.2 48L33.5 48L32.3 48.3L31.1 48.9L29.1 48.8L28 48.4ZM46.9 45.3L47.6 44.4L49.1 43.6L50.3 43.1L51.2 43L53 43.1L53 44L53.2 44.7L51.3 45.5L50.3 45.4L51.3 46.8L52.5 47.2L52.7 48L52.8 48.9L53.5 49.2L52.9 50L53.4 50.1L53.1 50.7L53.9 52.8L53.7 53.1L51.9 53.4L50.3 52.8L49.2 52.4L48.9 51.7L49.2 51L49.4 49.8L50.1 49.5L49.6 49.3L48.9 48.4L47.5 47.1L47.5 46.2L46.9 45.3ZM-92.1 43.3L-89.5 42L-88.3 41.2L-86 41.4L-84.6 43L-84.6 43.5L-86.5 43.5L-88 43L-90 43.4L-92.1 43.3ZM-87.8 48.3L-88 47L-87.6 45.5L-87 44.1L-85.8 45.1L-84.8 44.2L-85.5 44.2L-86.3 45.5L-86.3 47L-87 48.2L-87.8 48.3ZM-84.7 44L-83.5 43.9L-81.5 44L-80 45L-81.7 45.1L-81.7 46.5L-82.4 47L-82.9 46L-83.3 45.5L-83.5 44.7L-84.7 44ZM-83.4 48.3L-82.6 48L-81 47.4L-79.2 47.1L-79 47.2L-81.5 48.3L-83.4 48.3ZM-79.8 46.7L-79.4 46.3L-77.5 45.9L-76.2 46L-77 46.7L-79.8 46.7ZM103.7 38.5L105.5 38.2L107.5 37L109.5 34.5L109.8 34.2L108.5 36L106.5 37.5L104.5 38.7L103.7 38.5ZM58.2 43.5L59.5 43.7L61.5 44.7L61 46L59 46.5L58.5 45.5L58.2 43.5ZM74 43.4L76 43.3L79 43.4L79.2 44.1L77 44.5L74.5 44.3L74 43.4ZM32 90.4L33.8 89.7L34.1 90.5L33.8 92L32.5 92.8L31.8 91.5L32 90.4ZM30 30L30.5 28.7L31.5 28.3L32.8 29L31.5 29.5L30 30ZM-97.5 39.5L-98 38L-99 36.5L-97.5 36.5L-96.5 38.5L-97.5 39.5ZM-117 29L-116 28.2L-112 27.2L-109 27.5L-113 28.5L-117 29ZM-125 25L-123 23.5L-120 23L-118 23.5L-121 24L-125 25Z" vector-effect="non-scaling-stroke"/>
</defs>
<g transform="translate(46.5 5.3)">
<rect x="0" y="0" width="189.2" height="95" fill="#fff"/>
<g transform="scale(0.525556 0.527778)" clip-path="url(#pc)">
<ellipse cx="10.5" cy="104" rx="1.6" ry="3.5" fill="#fbac34" transform="rotate(-12 10.5 104)"/><ellipse cx="40.5" cy="141.5" rx="4" ry="2" fill="#fbac34" transform="rotate(-12 40.5 141.5)"/><ellipse cx="50.5" cy="46" rx="3" ry="3.5" fill="#8fcff2" transform="rotate(-12 50.5 46)"/>
<g fill="#d3d3d3" stroke="#000" stroke-width="0.75" vector-effect="non-scaling-stroke" stroke-linejoin="round">
<use href="#landg"/>
<use href="#landg" transform="translate(360 0)"/>
</g>
</g>
<rect x="0" y="0" width="189.2" height="95" fill="none" stroke="#1a1a1a" stroke-width="1.1"/><path d="M0 0v-3.2M0 95v3.2M10.51 0v-1.6M10.51 95v1.6M21.02 0v-1.6M21.02 95v1.6M31.53 0v-3.2M31.53 95v3.2M42.04 0v-1.6M42.04 95v1.6M52.56 0v-1.6M52.56 95v1.6M63.07 0v-3.2M63.07 95v3.2M73.58 0v-1.6M73.58 95v1.6M84.09 0v-1.6M84.09 95v1.6M94.6 0v-3.2M94.6 95v3.2M105.11 0v-1.6M105.11 95v1.6M115.62 0v-1.6M115.62 95v1.6M126.13 0v-3.2M126.13 95v3.2M136.64 0v-1.6M136.64 95v1.6M147.16 0v-1.6M147.16 95v1.6M157.67 0v-3.2M157.67 95v3.2M168.18 0v-1.6M168.18 95v1.6M178.69 0v-1.6M178.69 95v1.6M189.2 0v-3.2M189.2 95v3.2M0 0h-3.2M189.2 0h3.2M0 7.92h-1.6M189.2 7.92h1.6M0 15.83h-1.6M189.2 15.83h1.6M0 23.75h-3.2M189.2 23.75h3.2M0 31.67h-1.6M189.2 31.67h1.6M0 39.58h-1.6M189.2 39.58h1.6M0 47.5h-3.2M189.2 47.5h3.2M0 55.42h-1.6M189.2 55.42h1.6M0 63.33h-1.6M189.2 63.33h1.6M0 71.25h-3.2M189.2 71.25h3.2M0 79.17h-1.6M189.2 79.17h1.6M0 87.08h-1.6M189.2 87.08h1.6M0 95h-3.2M189.2 95h3.2" stroke="#000" stroke-width="0.9" fill="none"/>
<rect x="143.2" y="75.5" width="43.8" height="17" fill="#fff" stroke="#333" stroke-width="0.8"/>
<text x="165.1" y="87.1" font-size="10" text-anchor="middle" fill="#111">(a 1910)</text>
</g>
<g transform="translate(269.3 5.3)">
<rect x="0" y="0" width="189.2" height="95" fill="#fff"/>
<g transform="scale(0.525556 0.527778)" clip-path="url(#pc)">
<path d="M212.8 33.2l3.3 -0.3l1.2 0.8l1.4 1.9l0.9 4.8l-0.8 4.8l-1.5 2.5l-8.6 8.7l-2.4 1.9l-2.5 1l-3.6 0.6l-8.6 0.1l-4.5 -0.5l-2.8 -0.9l-3.4 -2.7l-6.7 -7.1l-1.4 -2.4l0.1 -2.4l0.6 -1.2l3.4 -2l4.9 -0.7l20.8 -0.5l4.2 -1.6ZM2.4 83.4l3.4 -0.5l2.4 1.7l1.1 2.4l1.9 8.4l6.1 8.3l-0.3 3.6l-3.5 4.8l-0.9 2.4l0.5 2.1l1.3 1.5l2.4 1.1l3.7 0.6l22.4 0.7l4.5 1.9l4.8 4.9l3.7 1.9l3.7 0.7l11 0.3l4.7 1l3.4 2.4l7.7 8.4l0.9 2.4l-0.8 2.7l-1.2 1.2l-2.5 1l-9.8 0.7l-70.9 0l-4.9 -0.5l-3.7 -1.5l-2.1 -2.4l-0.9 -2.4l-0.1 -6l1.9 -4.5l4.9 -4.9l1.7 -2.5l0.9 -3.6l0 -3.6l-1.1 -3.6l-2.7 -2.8l-3.7 -1.3l-7.3 -0.4l0 -20l6.1 -0.2l3.7 -0.8l2.4 -1.3ZM362.4 83.4l2.8 -0.7l2.5 1.3l1.7 3l1.9 7.9l1.3 1.7l2.4 1.3l0 15.5l-1.1 1.1l0.2 1.2l0.9 0.8l0 33.5l-17.1 -0.4l-3.7 -1.2l-2.8 -2.8l-1.2 -4.8l0.5 -4.8l1.9 -3.6l5.6 -6l1.6 -4.7l-0.6 -6l-2.5 -3.6l-2.5 -1.2l-3.7 -0.7l-18.3 -0.3l-4.9 -0.5l-3.6 -2l-1.1 -2.5l1.5 -3.5l9.5 -9.6l4.7 -1.5l12.2 -0.5l3.7 -0.6l3.7 -2ZM285.9 131.2l4.7 -0.7l3.7 0.8l2.5 2.3l0.2 2.4l-1.5 1.9l-2.4 1.2l-3.7 0.4l-3.6 -0.8l-2.1 -1.5l-0.8 -2.4l1.1 -2.4ZM157.3 140.8l8.7 -0.5l7.3 0.6l3.8 2.3l1.3 2.4l0.2 2.4l-0.9 1.2l-3.2 0.4l-13.4 0.1l-4.9 -0.8l-2.8 -2.1l-0.4 -2.4l1.6 -2.4ZM182.8 153.9l0.2 -0.9l1.3 0l0.9 0.9l-0.2 1.2l-1.2 0Z" fill="#fdd57a"/><path d="M374.5 103.7l0.5 -0.3l0 3.1l-1.2 -1.6ZM35.9 131.2l4.1 -0.7l4.1 0.7l1.9 1.2l0.8 1.2l0.2 2.4l-2.1 2.4l-2.4 0.8l-3.7 0.2l-3.7 -1l-1.4 -1.2l-0.8 -2.4l1 -2.3Z" fill="#fbac34"/><path d="M175.5 21.3l3.9 -0.9l3.7 0.2l2.4 0.9l2.5 2.2l1.4 3.6l0.2 3.5l-0.9 3.6l-2 2.3l-2.4 0.5l-2.5 -1l-7.9 -7.7l-1.2 -3.6l1.1 -2.4ZM274.9 21.3l3.6 -0.9l4.8 0.5l2.9 1.6l1.2 2.4l-0.5 2.4l-1.9 2.4l-6.6 6.3l-2.4 1.2l-2.5 -0.3l-1.2 -1l-1.2 -2l-0.7 -3.1l0.2 -3.5l0.7 -2.4l1.7 -2.4Z" fill="#8fcff2"/><ellipse cx="50.5" cy="48" rx="3.5" ry="5.5" fill="#8fcff2" transform="rotate(-12 50.5 48)"/><ellipse cx="10" cy="104" rx="3" ry="7" fill="#fbac34" transform="rotate(-12 10 104)"/>
<g fill="#d3d3d3" stroke="#000" stroke-width="0.75" vector-effect="non-scaling-stroke" stroke-linejoin="round">
<use href="#landg"/>
<use href="#landg" transform="translate(360 0)"/>
</g>
</g>
<rect x="0" y="0" width="189.2" height="95" fill="none" stroke="#1a1a1a" stroke-width="1.1"/><path d="M0 0v-3.2M0 95v3.2M10.51 0v-1.6M10.51 95v1.6M21.02 0v-1.6M21.02 95v1.6M31.53 0v-3.2M31.53 95v3.2M42.04 0v-1.6M42.04 95v1.6M52.56 0v-1.6M52.56 95v1.6M63.07 0v-3.2M63.07 95v3.2M73.58 0v-1.6M73.58 95v1.6M84.09 0v-1.6M84.09 95v1.6M94.6 0v-3.2M94.6 95v3.2M105.11 0v-1.6M105.11 95v1.6M115.62 0v-1.6M115.62 95v1.6M126.13 0v-3.2M126.13 95v3.2M136.64 0v-1.6M136.64 95v1.6M147.16 0v-1.6M147.16 95v1.6M157.67 0v-3.2M157.67 95v3.2M168.18 0v-1.6M168.18 95v1.6M178.69 0v-1.6M178.69 95v1.6M189.2 0v-3.2M189.2 95v3.2M0 0h-3.2M189.2 0h3.2M0 7.92h-1.6M189.2 7.92h1.6M0 15.83h-1.6M189.2 15.83h1.6M0 23.75h-3.2M189.2 23.75h3.2M0 31.67h-1.6M189.2 31.67h1.6M0 39.58h-1.6M189.2 39.58h1.6M0 47.5h-3.2M189.2 47.5h3.2M0 55.42h-1.6M189.2 55.42h1.6M0 63.33h-1.6M189.2 63.33h1.6M0 71.25h-3.2M189.2 71.25h3.2M0 79.17h-1.6M189.2 79.17h1.6M0 87.08h-1.6M189.2 87.08h1.6M0 95h-3.2M189.2 95h3.2" stroke="#000" stroke-width="0.9" fill="none"/>
<rect x="143.2" y="75.5" width="43.8" height="17" fill="#fff" stroke="#333" stroke-width="0.8"/>
<text x="165.1" y="87.1" font-size="10" text-anchor="middle" fill="#111">(b 1925)</text>
</g>
<g transform="translate(491.8 5.3)">
<rect x="0" y="0" width="189.2" height="95" fill="#fff"/>
<g transform="scale(0.525556 0.527778)" clip-path="url(#pc)">
<path d="M49.6 10.5l3.9 0.5l2.9 1.9l0.7 2.4l-1.3 2.4l-2.3 1.3l-3.7 0.5l-3.7 -0.6l-2.4 -1.8l-0.8 -1.8l0.8 -2.5l2.4 -1.6ZM374.2 14.1l0.8 -0.6l0 3.1l-1.1 -1.3ZM185.7 30.8l5.9 -0.8l25.7 0l4.9 0.3l3.6 1.2l2.5 1.7l8.4 8.4l1.8 2.4l1.2 4.8l-0.7 5.9l-1.6 2.4l-1.8 1.4l-2.4 1l-7.2 1.2l-2.6 1.2l-6.1 5.7l-2.5 1.4l-3.6 0.8l-11 0.3l-4.9 0.9l-3 1.7l-4.9 4.8l-3.1 1.6l-3.7 0.6l-6.1 0.1l-4.9 -0.2l-3.7 -0.8l-2 -1.3l-0.8 -1.2l0 -2.4l0.7 -1.2l2.1 -1.5l8.6 -2.3l2.3 -2.2l0.5 -2.4l-1.6 -3.1l-12.2 -13.4l-0.7 -1.4l0.1 -2.4l0.6 -1.2l2.4 -1.7l9.8 -2.5l7.4 -6.5ZM132.6 44l1.6 -0.9l2.4 0.3l1.8 1.8l0.8 2.4l-0.3 6l-1.4 2.3l-2.1 1.1l-2.9 -1.1l-1.7 -3.5l0 -4.8ZM303.4 45.2l0.7 -0.5l1.2 0.4l-0.2 1.3l-1 0.6l-1.2 -0.3ZM285 51.2l4.4 -0.9l6.1 0.1l2.5 0.5l0.8 1.5l-0.4 2.3l-1.6 3.1l-9.8 10l-4.9 1.8l-11 0.1l-4.9 -0.8l-2.8 -2.2l-0.4 -2.4l1.6 -2.4l2.8 -1.2l6.1 -1.1l2.5 -1l6.1 -5.7ZM-15 52.4l1.2 0.2l2.3 2.1l1.1 4.8l-0.9 5.4l-1.4 1.8l-2.3 1.1ZM342.2 53.6l3.4 -0.7l2.6 1.8l1.4 4.8l-0.5 4.8l-2 3.6l-5.1 4.7l-7.7 8.4l-1.4 2.4l-0.1 2.4l1.8 2.4l2.5 1.1l9.8 0.7l4.9 -0.3l3.6 -1l6.2 -4.7l2.4 -1.2l2.4 0.3l2.5 2.7l2.4 9.1l1.3 1.7l2.4 1.2l0 62.2l-8.6 -0.6l-2.4 -1.1l-2.4 -2.5l-2.9 -11.4l-1.7 -2.4l-4.7 -4.8l-1.3 -2.4l-0.9 -4.8l-0.4 -11.9l-1.9 -4.8l-2.1 -1.8l-3.7 -1.2l-18.3 -0.4l-2.5 -0.5l-1 -2.1l-0.4 -8.3l-0.7 -3.6l-1.6 -2.9l-3.8 -4.3l-1.1 -2.1l0.2 -2.7l1.5 -2.4l17.9 -18.5ZM54.2 63.1l1.8 0l2.4 2l0.9 2.8l0.4 4.8l-0.1 7.1l-0.6 3.6l-1.9 2.9l-2.4 0.7l-2.4 -1.2l-0.8 -1.2l-0.8 -2.4l-0.4 -4.7l0.7 -10.8l1.2 -2.4ZM2.4 83.4l3.4 -0.5l2.4 1.8l1.1 2.3l1.9 8.4l1.5 2.4l5.6 5.9l1 2.4l1.6 8.4l2 3l2.4 1.5l4.9 0.9l11 0.3l3.7 0.8l3 1.9l4.8 4.7l4.4 1.9l22 0.6l4.9 0.6l3.7 2l6.1 5.8l2.5 1l3.6 0.5l4.9 -0.9l2.7 -1.9l1.9 -3.6l1.6 -8.3l2.4 -3.2l3.6 -1.6l5.7 0l4.1 1.5l5.9 5.6l2.7 1.5l4.9 0.8l11 0.3l3.6 0.8l2.5 1.4l4.9 5l2.4 1.6l3.7 1l9.2 0.8l1 1.2l-0.2 2.4l-1.3 2.4l-1.4 1.2l-2.6 1.2l-4.7 0.5l-129.6 0.5l-4.9 1.4l-6.5 5.9l-3.3 1.7l-9.8 0.8l-8.5 -0.8l-2.5 -1.3l-1.4 -1.6l-1.2 -2.4l-2 -9.5l-1.6 -2.4l-4.8 -4.7l-1.4 -2.5l-0.8 -3.6l-0.8 -14.3l-1.9 -3.5l-2.4 -1.2l0 -22.2l6.1 -0.2l3.7 -0.8l2.4 -1.3ZM274.6 93l2.6 0.8l1.2 1.4l1.1 5l-1.2 4.7l-1.1 1.4l-2.5 0.7l-2 -0.9l-1 -1.2l-1.1 -4.7l0.9 -4.8l0.8 -1.2ZM160.9 100.2l18.5 -0.1l6.1 1.3l2.7 2.3l1.4 3.6l0 4.8l-1.1 3.6l-3 3l-4.9 1.2l-12.2 -0.2l-4.9 -1.5l-9.5 -9.7l-1.3 -2.4l0.2 -2.4l2 -2.1l2.5 -1ZM314.2 113.3l2.2 -0.9l1.3 0.9l-1.4 3l-2.4 1.3l-1.3 -0.4l-0.1 -1.5ZM305.2 121.7l2.6 -0.4l1.2 0.7l0.3 0.9l0.4 8.3l-1.5 4.8l-2.5 2.4l-2.8 1l-4.9 0l-3.1 -1l-2 -2.4l-0.2 -1.2l0.6 -2.4l8.3 -8.7ZM183.9 134.8l1 0l0.4 1.2l-1 1l-1.2 0l-0.2 -1Z" fill="#fdd57a"/><path d="M196.1 51.2l5.3 -0.6l3.7 1.1l1.2 1.1l0.8 1.9l-0.7 2.4l-1.4 1.2l-3.6 1.1l-3.7 -0.1l-2.7 -1l-1.3 -1.2l-0.8 -2.4l1.2 -2.3ZM-15 103.7l1.2 1.2l-1.2 1.6ZM374.5 103.7l0.5 -0.3l0 3.2l-1.2 -1.7ZM7.1 120.5l4.8 -0.3l3.7 1l2.4 1.7l4.9 4.9l3.7 1.8l3.6 0.4l18.4 0.1l4.9 0.8l2.6 1.5l0.9 1.2l0.3 2.4l-2.2 3.6l-6.5 6.9l-2.5 1.9l-4.9 1.3l-5.5 -0.5l-3 -1.6l-4.9 -4.9l-3.7 -2.1l-3.6 -0.6l-12.3 -0.3l-3.6 -1.1l-2 -1.4l-1.5 -2.4l-0.7 -2.4l0.2 -6l1.9 -3.5l2.1 -1.5ZM367 120.5l8 -0.7l0 20.2l-6.1 -0.2l-3.7 -0.9l-2.4 -1.5l-1.7 -2.6l-0.9 -4.8l0.8 -4.7l1.8 -2.7Z" fill="#fbac34"/><path d="M374.5 103.7l0.5 -0.3l0 3.1l-1.2 -1.6ZM35.9 131.2l4.1 -0.7l4.1 0.7l1.9 1.2l0.8 1.2l0.2 2.4l-2.1 2.4l-2.4 0.8l-3.7 0.2l-3.7 -1l-1.4 -1.2l-0.8 -2.4l1 -2.3Z" fill="#f6862c"/><path d="M374.5 103.7l0.5 -0.3l0 3.1l-1.2 -1.6Z" fill="#e9522b"/><path d="M175.7 21.3l4.9 -0.7l3.7 0.7l2.6 2.4l0 2.4l-1.4 1.9l-2.4 1.1l-3.7 0.4l-3.7 -0.8l-2 -1.4l-0.8 -2.4l1.1 -2.4ZM274.9 21.3l3.6 -0.9l4.8 0.5l2.9 1.6l1.2 2.4l-0.5 2.4l-1.9 2.4l-6.6 6.3l-2.4 1.2l-2.5 -0.3l-1.2 -1l-1.2 -2l-0.7 -3.1l0.2 -3.5l0.7 -2.4l1.7 -2.4ZM62.7 103.7l3 -1l2.4 1l7.4 7.2l1.8 3.6l-0.6 2.4l-1.2 1.2l-2.7 1.2l-4.7 0.2l-3.6 -1l-2.1 -1.6l-1.6 -3.2l-0.4 -4l0.7 -3.6ZM245.2 151.5l3.8 -1l5 0.7l2.4 1.7l0.7 2.2l-0.3 1.2l-1.6 1.9l-2.5 1l-3.6 0.2l-3.3 -0.7l-1.8 -1.2l-1.1 -2.4l0.8 -2.4Z" fill="#8fcff2"/><ellipse cx="50.5" cy="48" rx="3.5" ry="5.5" fill="#4f9ad6" transform="rotate(-12 50.5 48)"/><ellipse cx="10.5" cy="103" rx="3.5" ry="8" fill="#fbac34" transform="rotate(-12 10.5 103)"/><ellipse cx="10.5" cy="103" rx="2" ry="5" fill="#e9522b" transform="rotate(-12 10.5 103)"/>
<g fill="#d3d3d3" stroke="#000" stroke-width="0.75" vector-effect="non-scaling-stroke" stroke-linejoin="round">
<use href="#landg"/>
<use href="#landg" transform="translate(360 0)"/>
</g>
</g>
<rect x="0" y="0" width="189.2" height="95" fill="none" stroke="#1a1a1a" stroke-width="1.1"/><path d="M0 0v-3.2M0 95v3.2M10.51 0v-1.6M10.51 95v1.6M21.02 0v-1.6M21.02 95v1.6M31.53 0v-3.2M31.53 95v3.2M42.04 0v-1.6M42.04 95v1.6M52.56 0v-1.6M52.56 95v1.6M63.07 0v-3.2M63.07 95v3.2M73.58 0v-1.6M73.58 95v1.6M84.09 0v-1.6M84.09 95v1.6M94.6 0v-3.2M94.6 95v3.2M105.11 0v-1.6M105.11 95v1.6M115.62 0v-1.6M115.62 95v1.6M126.13 0v-3.2M126.13 95v3.2M136.64 0v-1.6M136.64 95v1.6M147.16 0v-1.6M147.16 95v1.6M157.67 0v-3.2M157.67 95v3.2M168.18 0v-1.6M168.18 95v1.6M178.69 0v-1.6M178.69 95v1.6M189.2 0v-3.2M189.2 95v3.2M0 0h-3.2M189.2 0h3.2M0 7.92h-1.6M189.2 7.92h1.6M0 15.83h-1.6M189.2 15.83h1.6M0 23.75h-3.2M189.2 23.75h3.2M0 31.67h-1.6M189.2 31.67h1.6M0 39.58h-1.6M189.2 39.58h1.6M0 47.5h-3.2M189.2 47.5h3.2M0 55.42h-1.6M189.2 55.42h1.6M0 63.33h-1.6M189.2 63.33h1.6M0 71.25h-3.2M189.2 71.25h3.2M0 79.17h-1.6M189.2 79.17h1.6M0 87.08h-1.6M189.2 87.08h1.6M0 95h-3.2M189.2 95h3.2" stroke="#000" stroke-width="0.9" fill="none"/>
<rect x="143.76" y="75.5" width="43.24" height="17" fill="#fff" stroke="#333" stroke-width="0.8"/>
<text x="165.38" y="87.1" font-size="10" text-anchor="middle" fill="#111">(c 1940)</text>
</g>
<g transform="translate(46.5 122.1)">
<rect x="0" y="0" width="189.2" height="95" fill="#fff"/>
<g transform="scale(0.525556 0.527778)" clip-path="url(#pc)">
<path d="M18.6 10.5l42.2 -0.1l2.4 0.5l2.5 1.3l1.2 1.7l0.2 1.4l-1.4 2.5l-2 1.1l-2.9 0.6l-41.6 0l-2.9 -0.6l-2 -1.1l-1.4 -2.5l0.2 -1.4l1.2 -1.7ZM374.2 14.1l0.8 -0.6l0 3.1l-1.1 -1.3ZM195.7 30.8l5.7 -0.8l25.7 0l4.9 0.3l3.6 1.2l2.5 2.1l1.4 3.2l0.5 4.8l-0.2 9.6l-0.5 2.6l-1.2 2.6l-3.7 2.7l-3.7 0.7l-12.2 0.4l-5.1 1.7l-10 9.6l-1.8 2.4l-1.2 3.6l-1 5.9l-1.8 3.6l-3.5 2.2l-11 1.3l-1.9 1.3l0.2 2.4l1 2.4l6 7.1l0.9 2.4l0.6 3.6l-0.1 31.1l-1.2 4.8l-3.1 3l-4.9 1.2l-11 0.2l-3.7 0.6l-3.6 2.1l-6.1 5.7l-2.5 1l-3.7 0.5l-138.1 0.1l-4.9 -0.5l-3.7 -1.4l-14.6 -14.3l-3.7 -1.9l0 -14l2.4 -1.3l1.1 -1.3l1.1 -4.8l-0.9 -5.4l-1.4 -1.8l-2.3 -1.1l0 -72.2l16.4 0.4l3.7 1.2l1.9 2.1l0.2 2.7l-1.4 2.4l-7.6 8.3l-5.2 4.8l-1.7 2.4l-1 3.6l0.1 4.8l1.4 3.6l1.8 1.7l2.4 1.2l8.6 1.8l3.3 2.4l1.6 3.3l1.7 8.7l1.5 2.4l5.6 5.9l1 2.4l1.6 8.4l2.8 3.6l2.5 1.2l2.8 0.5l19.6 0.2l4.9 0.6l3.6 1.6l6.1 5.8l4.9 1.7l30.6 0.2l3.7 -0.3l3.6 -1.2l7.4 -6.5l3.6 -1.4l23.3 -0.6l4.9 -1.1l2.5 -1.9l1.7 -3.6l0.9 -15.5l0.7 -2.4l1.5 -2.5l2.4 -1.7l3.7 -1l17.1 -0.6l2.5 -0.6l0.6 -2l-1.9 -3.9l-3.2 -2.1l-7.8 -1.6l-3.5 -1.9l-8.9 -9.6l-0.8 -2.4l0.1 -1.2l0.9 -1.7l2.5 -1.6l3.6 -0.8l12.3 -0.8l2.9 -1.1l1.9 -2.3l-0.1 -2.4l-2.3 -2.4l-7.3 -1.8l-3.3 -1.8l-0.7 -1.2l-0.2 -2.4l1.7 -2.1l3.7 -1.3l12.2 -0.7l3.7 -0.7l3.6 -2.1l4.9 -4.8ZM127.7 40.4l5.2 0.1l2.5 0.8l2 1.5l1.9 3.6l0.3 6l-1.1 3.5l-1.9 2.6l-8.6 7.8l-2.4 0.9l-1.2 -0.1l-2.5 -1.6l-1.2 -2.7l-0.6 -5.7l0.1 -8.3l0.9 -3.6l1.5 -2.4l1.8 -1.3ZM347.5 40.4l6.8 -0.4l7.3 0.4l3.6 1.3l1.9 2.3l0.1 2.4l-1.4 2.4l-14 14.8l-1.2 3.1l-0.3 4.8l1.5 4.7l2.4 2.3l2.5 0.9l7.3 1.4l3.7 2.3l1.6 2.7l2 9.1l1.3 1.7l2.4 1.2l0 62.2l-7.3 -0.4l-4.9 -1.9l-11 -10.6l-8.8 -9.9l-0.5 -2.4l0.7 -2.3l4.9 -5.8l1.4 -3.8l0 -6l-0.9 -2.4l-1.7 -2.2l-2.5 -1.4l-2.4 -0.6l-13.5 -0.5l-4.2 -1.3l-1.9 -1.5l-1.3 -2.1l-2.1 -9.5l-2.7 -3.5l-2.4 -1.2l-7.4 -1.3l-2.4 -0.9l-7.3 -6.5l-3.7 -1.5l-8.6 -1.8l-2.4 -1.6l-6.1 -5.7l-2.5 -1l-7.3 -1.5l-2.5 -1.7l-0.8 -1.7l0.6 -2.4l1.5 -1.4l9.7 -2.5l3.2 -2.1l5.4 -5.1l2.5 -1.2l3.6 -0.6l9.8 0.1l1 0.9l2.7 5.7l3.6 2.3l8.6 0.8l8.6 -0.6l4.2 -2.3l14.3 -14.3l2.2 -1.5ZM303.3 45.2l0.8 -0.5l1.2 0.3l0 1.4l-1.2 0.9l-1.2 -0.1l-0.2 -0.8ZM56.3 60.7l3.3 -0.5l4.1 0.5l2.6 1.2l2.2 2.4l0.9 2.4l1.7 8.4l1.4 2.4l5.4 5.6l1.6 3.9l0.3 3.6l-0.6 3.6l-1.3 2.4l-2.4 2l-6.1 1.3l-18.4 -0.1l-4.9 -0.8l-3 -2.4l-0.4 -1.2l0.4 -2.4l4.8 -6l1.5 -3.6l0.8 -14.3l0.7 -3.6l2.6 -3.5ZM274.6 101.4l3.8 -1l3.7 0l3.7 1.1l2.4 2.2l1.6 4.8l0.8 14.1l1.1 2.7l1.4 1.4l1.2 0.5l2.5 -0.1l4.8 -3.3l2.5 -1l2.4 0.4l1.3 0.9l1.3 2.3l0.5 4.8l-0.7 3.6l-1.6 2.4l-3.2 1.9l-3.7 0.6l-9.8 0.1l-4.8 -0.7l-3.7 -2l-9.5 -9.5l-1.4 -2.3l-0.9 -3.6l-0.2 -12l1.1 -4.8l1.1 -1.8Z" fill="#fdd57a"/><path d="M212.8 33.2l2.1 -0.5l2.4 1l1.4 1.9l0.7 2.4l-0.3 6l-1.1 2.4l-1.9 1.8l-2.5 1.1l-9.1 1.9l-1.9 1.2l-6.1 5.8l-3.7 1.3l-6.1 -0.1l-2.7 -1.1l-2.2 -2.1l-1.2 -2.8l-0.3 -4.6l0.8 -3.6l2 -2.8l2.4 -1.4l2.4 -0.7l15.9 -0.8l3.1 -1.5ZM129.2 40.4l3.7 0.2l2.5 0.8l1.9 1.4l1.6 2.4l0.7 3.6l-0.2 3.6l-0.9 2.3l-1.9 2.1l-2.4 0.4l-2.5 -1.1l-8.4 -8.5l-0.6 -2.4l0.8 -2.4l2.1 -1.5ZM2.4 83.4l3.4 -0.5l2.4 1.8l1.1 2.3l1.9 8.4l1.5 2.4l5.6 5.9l1 2.4l1.6 8.4l2.8 3.6l2.9 1.3l6.1 1l3.5 1.3l6.3 5.8l3.6 1.8l4.9 0.6l19.6 0.3l4.9 1.1l3.2 2.3l7.7 8.4l0.9 2.4l-0.8 2.7l-1.2 1.2l-2.5 1l-6.1 0.6l-75.8 0l-3.7 -0.3l-3.6 -1.4l-6.2 -5.4l-2.4 -0.9l0 -13.8l3.7 -1.9l7.3 -7.7l1.3 -2.8l-0.5 -2.4l-2 -1.8l-3.7 -1.1l-6.1 -0.3l0 -20.1l6.1 -0.2l3.7 -0.8l2.4 -1.3ZM362.4 83.4l2.8 -0.7l2.5 1.3l1.7 3l1.9 7.9l1.3 1.7l2.4 1.2l0 52.2l-14.7 -0.1l-4.9 -0.8l-3.6 -2.3l-6.9 -7.2l-2.3 -3.6l0.6 -3.6l13.1 -14.3l0.9 -3.6l-1.4 -2.4l-2.8 -1.4l-13.5 -1l-3.6 -0.8l-2.3 -1.6l-0.9 -2.4l1.4 -3.5l9.1 -9.4l3.7 -1.5l8.5 -1.8Z" fill="#fbac34"/><path d="M374.5 103.7l0.5 -0.3l0 3.2l-1.2 -1.7ZM4.3 122.9l2.7 0.2l6.1 4.9l4.9 1.7l40.4 0.3l6.1 0.9l2.5 1.5l2.2 3.6l0.6 4.8l-0.7 3.6l-2.6 3.6l-2 1.1l-3.7 0.7l-37.9 0.2l-7.3 -0.9l-3.9 -2.3l-8.4 -8.4l-2.2 -3.6l-0.7 -3.6l0.5 -4.6l1.2 -2.3ZM364.3 122.9l3.4 0.5l4.9 3.8l2.4 0.9l0 19.9l-3.7 -1.8l-7.9 -7.8l-2.3 -3.6l-0.7 -3.6l0.5 -4.8l1.4 -2.3Z" fill="#f6862c"/><path d="M374.5 103.7l0.5 -0.3l0 3.1l-1.2 -1.6ZM35 131.2l3.8 -0.8l4.9 0.6l2.5 1.4l1.1 2.4l-0.4 2.4l-1.9 2.4l-6.2 6.1l-3.7 1.6l-2.4 -1l-1.2 -1.5l-1.1 -5.2l1.1 -5.1l1.6 -2.1Z" fill="#e9522b"/><path d="M174.7 21.3l3.4 -0.9l5 0.1l2.4 0.9l2.6 2.3l1.4 3.6l0.1 4.7l-1.1 3.6l-2.1 2.4l-3.3 1.4l-4.9 0.2l-3.7 -1l-2.4 -2.1l-1.7 -4.5l0.1 -4.7l1.4 -3.6ZM274.9 21.3l3.6 -0.9l4.8 0.5l2.9 1.6l1.2 2.4l-0.5 2.4l-1.9 2.4l-6.6 6.3l-2.4 1.2l-2.5 -0.3l-1.2 -1l-1.2 -2l-0.7 -3.1l0.2 -3.5l0.7 -2.4l1.7 -2.4ZM62.9 103.7l1.6 -0.7l2.4 0.5l1.3 1.4l1 2.4l0.2 3.6l-0.4 2.4l-1.3 2.4l-2 1.3l-1.5 -0.1l-1.9 -1.2l-1.5 -3.2l0 -5.2l1 -2.4ZM245.2 151.5l3.8 -1l5 0.7l2.4 1.7l0.7 2.2l-0.3 1.2l-1.6 1.9l-2.5 1l-3.6 0.2l-3.3 -0.7l-1.8 -1.2l-1.1 -2.4l0.8 -2.4Z" fill="#8fcff2"/><ellipse cx="50.5" cy="48" rx="3.5" ry="5.5" fill="#4f9ad6" transform="rotate(-12 50.5 48)"/><ellipse cx="11" cy="104" rx="4.5" ry="14" fill="#f6862c" transform="rotate(-12 11 104)"/><ellipse cx="11" cy="104" rx="2.5" ry="10" fill="#e9522b" transform="rotate(-12 11 104)"/>
<g fill="#d3d3d3" stroke="#000" stroke-width="0.75" vector-effect="non-scaling-stroke" stroke-linejoin="round">
<use href="#landg"/>
<use href="#landg" transform="translate(360 0)"/>
</g>
</g>
<rect x="0" y="0" width="189.2" height="95" fill="none" stroke="#1a1a1a" stroke-width="1.1"/><path d="M0 0v-3.2M0 95v3.2M10.51 0v-1.6M10.51 95v1.6M21.02 0v-1.6M21.02 95v1.6M31.53 0v-3.2M31.53 95v3.2M42.04 0v-1.6M42.04 95v1.6M52.56 0v-1.6M52.56 95v1.6M63.07 0v-3.2M63.07 95v3.2M73.58 0v-1.6M73.58 95v1.6M84.09 0v-1.6M84.09 95v1.6M94.6 0v-3.2M94.6 95v3.2M105.11 0v-1.6M105.11 95v1.6M115.62 0v-1.6M115.62 95v1.6M126.13 0v-3.2M126.13 95v3.2M136.64 0v-1.6M136.64 95v1.6M147.16 0v-1.6M147.16 95v1.6M157.67 0v-3.2M157.67 95v3.2M168.18 0v-1.6M168.18 95v1.6M178.69 0v-1.6M178.69 95v1.6M189.2 0v-3.2M189.2 95v3.2M0 0h-3.2M189.2 0h3.2M0 7.92h-1.6M189.2 7.92h1.6M0 15.83h-1.6M189.2 15.83h1.6M0 23.75h-3.2M189.2 23.75h3.2M0 31.67h-1.6M189.2 31.67h1.6M0 39.58h-1.6M189.2 39.58h1.6M0 47.5h-3.2M189.2 47.5h3.2M0 55.42h-1.6M189.2 55.42h1.6M0 63.33h-1.6M189.2 63.33h1.6M0 71.25h-3.2M189.2 71.25h3.2M0 79.17h-1.6M189.2 79.17h1.6M0 87.08h-1.6M189.2 87.08h1.6M0 95h-3.2M189.2 95h3.2" stroke="#000" stroke-width="0.9" fill="none"/>
<rect x="143.2" y="75.5" width="43.8" height="17" fill="#fff" stroke="#333" stroke-width="0.8"/>
<text x="165.1" y="87.1" font-size="10" text-anchor="middle" fill="#111">(d 1955)</text>
</g>
<g transform="translate(269.3 122.1)">
<rect x="0" y="0" width="189.2" height="95" fill="#fff"/>
<g transform="scale(0.525556 0.527778)" clip-path="url(#pc)">
<path d="M7.4 10.5l52.2 -0.2l4.9 1.1l1.9 1.5l0.6 1.2l-0.3 2.4l-0.9 1.2l-2.1 1.2l-2.9 0.6l-39.1 0.3l-4.9 0.6l-2.5 0.9l-2.6 2.4l-1.5 3.6l-0.6 14.3l-1.4 4.7l-10 10.8l-5.2 4.8l-1.9 2.9l-0.8 3.1l-0.1 3.6l1.6 4.8l3 2.5l9.8 2.2l3.3 2.4l1.6 3.3l1.7 8.7l1.5 2.4l5.7 5.9l1 2.4l1.4 7.2l2.1 3.2l2.4 0.8l2.5 -0.8l8.8 -8l2.5 -3.6l0.9 -4.7l0.2 -21.6l0.8 -3.5l1.4 -2.4l11.1 -10.8l3.6 -1.4l4.9 -0.1l3.7 1.1l2.4 2.2l1.4 3l1.5 7.2l2 2.7l1.2 0.5l2.5 -0.1l6.1 -4.8l2.5 -1.2l3.6 -0.7l3.7 0.1l3.7 1.3l7.3 6.2l4.6 1.9l0.9 1.2l0 1.2l-1 3.6l-1.5 2.4l-8 8.4l-3.7 2.4l-6 0.9l-29.3 0.2l-3.7 0.7l-2.4 1.2l-1.8 1.7l-1.1 2.4l-0.4 4.8l1.3 4.8l3.2 3l3.7 1l12.2 0.5l3.6 0.6l3.7 2.1l6.1 5.6l3.7 1.1l4.9 0l4.9 -2.1l9.8 -9.7l1.8 -3.3l2 -9.6l1.7 -2.4l3 -1.7l4.9 -0.7l15.9 -0.3l55 0.3l3.7 1.1l1.9 1.3l1.6 2.4l0.8 2.4l0.3 22.7l-0.5 3.6l-1.7 3.6l-9.4 9.6l-2.8 1.9l-4.9 1.1l-11 0.3l-3.7 0.7l-3.6 1.9l-6.1 5.7l-4.9 1.4l-138.2 0.2l-6.1 -0.5l-3.7 -1.4l-14.6 -14.3l-3.7 -1.9l0 -14l2.4 -1.3l1.1 -1.3l1.1 -4.8l-0.9 -5.4l-1.4 -1.8l-2.3 -1.1l0 -72.2l8.6 -0.6l2.4 -1l1.8 -1.6l1.5 -2.4l0.6 -2.4l0.4 -13.1l0.8 -3.6l2.2 -3.1ZM367.3 10.5l7.7 -0.3l0 11.9l-2.9 1.6l-1.7 3.6l-1.1 16.7l-1.9 3.6l-15.3 15.5l-1.5 3.6l-0.4 3.6l1 4.8l1.8 2.5l3.7 1.8l7.3 1.4l3.7 2.3l1.6 2.7l2 9.1l1.3 1.7l2.4 1.2l0 62.2l-7.3 -0.4l-4.9 -1.9l-11 -10.6l-8.6 -9.6l-0.7 -1.5l0.1 -2.4l5.6 -7.2l1.1 -2.3l0.5 -3.6l-0.3 -3.6l-1.4 -3.2l-2.4 -2.2l-2.5 -0.9l-6.1 -0.1l-2.4 0.8l-2.6 2l-1.8 4.8l-0.8 15.5l-2 3.6l-2.6 1.7l-7.4 1.1l-36.6 -0.1l-4.9 -0.6l-3.7 -2l-4.9 -5.2l-5.1 -4.5l-8.7 -9.5l-0.9 -2.1l0 -1.5l1.5 -2.4l2.2 -1.2l7.3 -1.5l2.5 -1l6.2 -5.9l3.6 -1.9l4.9 -0.4l3.6 0.7l2.7 1.6l2.1 3.6l1 14.4l0.8 3.6l2 2.5l2.4 0.7l3.7 -1.9l8 -7.3l10.3 -10.6l1.9 -3.8l0.2 -5.9l-1.2 -3.6l-2.1 -2.3l-2.4 -1.2l-7.4 -1.3l-2.4 -0.9l-7 -6.3l-4 -1.7l-3.7 -0.2l-3.6 0.5l-3 1.4l-5.6 4.7l-2.5 0.4l-1.2 -0.4l-2.4 -2.9l-2.6 -10.1l-5.6 -7.2l-0.2 -2.4l0.6 -1.2l2.9 -2.1l7.3 -1.6l3.7 -2l1.8 -2.7l1.6 -8.3l1.5 -3.3l8.5 -8.3l2.5 -1.7l2.4 -0.3l1.3 0.5l1.2 1.1l1.2 2.4l1 14.4l1.4 4.7l2.5 2.5l4.9 1.3l3.6 -0.1l3.7 -1.3l6.1 -5.7l2.5 -1.5l11 -2.6l8.5 -7.2l11 -2.6l2.5 -1.9l1.8 -3.6l0.6 -14.3l0.8 -3.6l1.5 -2.4l1.4 -1.2ZM165.8 30.8l7.5 -0.8l50.1 0l7.3 0.2l3.7 0.7l2.4 1.4l2.3 3.3l0.7 3.6l0.8 14.4l1.6 3.5l4.8 6l0.3 2.4l-0.5 1.2l-1.4 1.5l-2.4 1.1l-12.3 1l-1.1 1.2l-1.9 4.8l-1.9 1.7l-2.4 1.2l-3.7 0.6l-11 0.4l-3.6 0.8l-2.5 1.4l-6 5.8l-3.8 1.5l-3.6 0.3l-3.7 -0.7l-3.6 -2.3l-5 -4.9l-2.4 -1.2l-3.7 -0.6l-3.6 0.2l-3.7 1.3l-6.1 5.8l-4.9 2.2l-11 0.3l-6.1 -1.3l-2 -1.8l-0.7 -2.4l0.7 -2.4l4.1 -4.7l1.7 -3.6l0.6 -6l-0.6 -6l-1.4 -0.7l-3.6 0.8l-7.4 5.5l-2.4 1l-2.5 0.1l-0.9 -0.7l-0.7 -3.6l-0.2 -13.1l0.5 -4.8l1.1 -2.4l2.7 -2.5l3.6 -1.2l9.8 -0.2l6.1 0.9l2.6 1.8l0.7 1.2l0.1 2.4l-5 7.2l-1.1 3.5l0.3 1.7l2.4 0.9l7.4 0.2l8.5 -0.1l3.7 -0.7l3 -2l0.7 -1.2l0 -2.3l-6.2 -8.4l-0.7 -2.4l-0.2 -3.6l0.8 -3.6l1.3 -2.4ZM224.6 65.4l1.2 1.8l1.3 0l-0.1 -1.7l-1.2 -0.7ZM115.2 72.7l2.1 0l-0.1 2.4l-2.6 2.4l-2 0l-0.5 -1.2l0.5 -1.2Z" fill="#fdd57a"/><path d="M49.6 10.5l3.9 0.5l2.9 1.9l0.7 2.4l-1.3 2.4l-2.3 1.3l-3.7 0.5l-3.7 -0.6l-2.4 -1.8l-0.8 -1.8l0.8 -2.5l2.4 -1.6ZM195.7 30.8l5.7 -0.8l25.7 0l4.9 0.3l3.6 1.2l3 2.9l1.2 4.8l0 12l-1.4 4.7l-2.4 2.4l-2.8 1.1l-17.2 1.3l-3.6 1.9l-4.9 4.2l-2.4 0.7l-2.7 -0.8l-7.1 -5.5l-11 -2.6l-8.6 -7.2l-8.5 -2.1l-2.5 -1l-1.7 -1.9l-0.3 -1.2l0.4 -2.4l1.8 -2.4l7.2 -6.9l2.4 -0.9l2.4 0.4l5.7 3.8l2.9 0.6l2.4 -0.9l4.9 -4.3ZM127.7 40.4l4 -0.1l3.7 1l2 1.5l1.6 2.7l0.8 4.5l-0.8 4.7l-1.6 2.4l-3.2 2.1l-4.9 0.5l-3.7 -0.6l-3 -2l-1.6 -2.4l-0.8 -4.7l0.9 -4.8l2.1 -2.9ZM283.1 53.6l1.4 -0.5l2.5 0.5l1.7 2.3l0.9 3.6l0.1 8.4l-0.5 4.8l-1 2.5l-2.4 1.7l-2.5 -0.3l-1.2 -1.1l-1.5 -4l0 -13.2l0.7 -2.4ZM326.2 60.7l6 -0.3l2.5 0.6l2.4 1.5l2 3l1.5 8.4l1.4 2.9l8.5 8.4l2.5 1.8l3.7 0.2l7.3 -4.4l2.4 0.3l2.5 2.6l2.4 9.2l1.3 1.7l2.4 1.2l0 52.2l-17.1 -0.4l-3.7 -1.2l-2 -1.6l-1.3 -2.4l-0.7 -3.6l-0.2 -19.1l-0.7 -5.4l-2.4 -4l-2.5 -1.4l-2.4 -0.5l-6.1 0.4l-3.7 1.9l-9.8 9.5l-4.9 5.5l-11.5 10.7l-3.1 1l-4.9 0l-3.1 -1l-1.8 -2l-0.3 -2.8l1.4 -2.4l7.7 -8.3l5.9 -5.3l9.9 -10.3l1.7 -3.6l2 -9.5l5.7 -7.2l0.1 -3.6l-5.6 -7.1l-0.9 -2.4l-0.5 -3.6l0.4 -3.6l0.9 -2.4l2.1 -2.4ZM52.7 73.9l2 -0.9l2.4 0.7l1.3 1.4l0.8 2.4l0.2 3.5l-0.4 2.4l-1.4 2.4l-1.7 1.1l-2.4 -0.2l-1.3 -1l-1.2 -2.3l-0.2 -5.9ZM-15 82.2l2.4 0.6l4.9 3.9l2.5 0.8l2.4 -0.5l6.1 -4l2.5 -0.1l1.2 0.5l1.2 1.3l1.1 2.3l1.9 8.4l1.5 2.4l5.6 5.9l1 2.4l1.6 8.4l1.4 2.4l1.8 1.5l4.9 1.4l11 0.3l4.9 0.9l3 1.9l4.8 4.7l4.4 1.9l23.3 0.6l4.9 1.1l3.4 2.4l7.7 8.4l0.9 2.4l-0.5 2.4l-1.8 1.6l-2.4 1l-8.6 0.6l-81.9 0l-4.9 -0.5l-3.6 -1.5l-2.2 -2.4l-1.2 -3.6l-0.4 -20.3l-0.5 -4.8l-1.9 -3.5l-2.4 -1.2ZM125.9 131.2l4.5 -0.7l3.8 0.8l2.6 2.3l0.2 2.4l-1.6 2l-2.5 1.1l-3.6 0.4l-3.7 -0.9l-1.9 -1.4l-0.8 -2.4l1.1 -2.4ZM167.5 140.8l4.6 -0.1l3.3 1.3l1.6 2.4l-0.4 2.4l-2.1 1.7l-2.4 0.8l-3.7 0.1l-3.7 -1.3l-1.3 -1.3l-0.4 -2.4l1.6 -2.4Z" fill="#fbac34"/><path d="M196.1 51.2l5.3 -0.6l3.7 1.1l1.2 1.1l0.8 1.9l-0.7 2.4l-1.4 1.2l-3.6 1.1l-3.7 -0.1l-2.7 -1l-1.3 -1.2l-0.8 -2.4l1.2 -2.3ZM3.3 83.4l2.5 -0.4l2.4 1.9l2.9 10.5l1.5 2.4l4.9 4.7l1.3 2.4l0.9 3.6l0.5 13.2l1 3.6l1.8 2.3l3.6 1.8l3.6 0.5l30.6 0.4l3.6 0.9l1.7 1.2l1.2 2.4l-0.4 2.4l-8.6 9.6l-3.6 2.2l-3.7 0.8l-23.2 -0.2l-4.9 -1.8l-4.9 -4.9l-2.4 -1.6l-9.8 -2.1l-3.2 -2l-1.5 -2.4l-0.7 -2.4l0.2 -6l1.6 -3.5l4.8 -5.7l0.5 -2.7l-0.9 -2.4l-5 -6l-1.3 -3.6l0.3 -14.3l0.7 -2.4ZM363.3 83.4l1.9 -0.5l1.2 0.4l1.7 1.3l1.1 2.4l2.1 8.2l1.3 1.5l2.4 1.1l0 42.2l-7.3 -0.4l-3.6 -1.2l-2.4 -2.4l-1.3 -3.6l-0.1 -3.6l0.7 -3.5l1.8 -3.2l3.6 -4l1.1 -2.4l-0.9 -3.6l-5 -6l-1.3 -3.6l0.3 -14.3l1 -2.9ZM-15 103.7l0.6 0l0.7 1.2l-1.3 1.7Z" fill="#f6862c"/><path d="M374.5 103.7l0.5 -0.3l0 3.1l-1.2 -1.6ZM35 131.2l3.8 -0.8l4.9 0.6l2.5 1.4l1.1 2.4l-0.4 2.4l-1.9 2.4l-6.2 6.1l-3.7 1.6l-2.4 -1l-1.2 -1.5l-1.1 -5.2l1.1 -5.1l1.6 -2.1Z" fill="#e9522b"/><path d="M165.7 21.3l6.3 -1l11.1 0.6l2.9 1.6l0.9 1.2l0 2.4l-2.1 2.4l-3 0.9l-8.5 0.3l-6.1 -0.5l-2.5 -1.1l-1.6 -2l0.1 -2.4ZM274.9 21.3l3.6 -0.9l4.8 0.5l2.9 1.6l1.2 2.4l-0.5 2.4l-1.9 2.4l-6.6 6.3l-2.4 1.2l-2.5 -0.3l-1.2 -1l-1.2 -2l-0.7 -3.1l0.2 -3.5l0.7 -2.4l1.7 -2.4ZM245.2 151.5l3.8 -1l5 0.7l2.4 1.7l0.7 2.2l-0.3 1.2l-1.6 1.9l-2.5 1l-3.6 0.2l-3.3 -0.7l-1.8 -1.2l-1.1 -2.4l0.8 -2.4Z" fill="#8fcff2"/><ellipse cx="50.5" cy="48" rx="3.5" ry="5.5" fill="#8fcff2" transform="rotate(-12 50.5 48)"/><ellipse cx="11" cy="104" rx="4.5" ry="14" fill="#f6862c" transform="rotate(-12 11 104)"/><ellipse cx="11" cy="104" rx="2.5" ry="10" fill="#e9522b" transform="rotate(-12 11 104)"/>
<g fill="#d3d3d3" stroke="#000" stroke-width="0.75" vector-effect="non-scaling-stroke" stroke-linejoin="round">
<use href="#landg"/>
<use href="#landg" transform="translate(360 0)"/>
</g>
</g>
<rect x="0" y="0" width="189.2" height="95" fill="none" stroke="#1a1a1a" stroke-width="1.1"/><path d="M0 0v-3.2M0 95v3.2M10.51 0v-1.6M10.51 95v1.6M21.02 0v-1.6M21.02 95v1.6M31.53 0v-3.2M31.53 95v3.2M42.04 0v-1.6M42.04 95v1.6M52.56 0v-1.6M52.56 95v1.6M63.07 0v-3.2M63.07 95v3.2M73.58 0v-1.6M73.58 95v1.6M84.09 0v-1.6M84.09 95v1.6M94.6 0v-3.2M94.6 95v3.2M105.11 0v-1.6M105.11 95v1.6M115.62 0v-1.6M115.62 95v1.6M126.13 0v-3.2M126.13 95v3.2M136.64 0v-1.6M136.64 95v1.6M147.16 0v-1.6M147.16 95v1.6M157.67 0v-3.2M157.67 95v3.2M168.18 0v-1.6M168.18 95v1.6M178.69 0v-1.6M178.69 95v1.6M189.2 0v-3.2M189.2 95v3.2M0 0h-3.2M189.2 0h3.2M0 7.92h-1.6M189.2 7.92h1.6M0 15.83h-1.6M189.2 15.83h1.6M0 23.75h-3.2M189.2 23.75h3.2M0 31.67h-1.6M189.2 31.67h1.6M0 39.58h-1.6M189.2 39.58h1.6M0 47.5h-3.2M189.2 47.5h3.2M0 55.42h-1.6M189.2 55.42h1.6M0 63.33h-1.6M189.2 63.33h1.6M0 71.25h-3.2M189.2 71.25h3.2M0 79.17h-1.6M189.2 79.17h1.6M0 87.08h-1.6M189.2 87.08h1.6M0 95h-3.2M189.2 95h3.2" stroke="#000" stroke-width="0.9" fill="none"/>
<rect x="143.2" y="75.5" width="43.8" height="17" fill="#fff" stroke="#333" stroke-width="0.8"/>
<text x="165.1" y="87.1" font-size="10" text-anchor="middle" fill="#111">(e 1970)</text>
</g>
<g transform="translate(491.8 122.1)">
<rect x="0" y="0" width="189.2" height="95" fill="#fff"/>
<g transform="scale(0.525556 0.527778)" clip-path="url(#pc)">
<path d="M-15 10.5l0 -0.4l13.4 -0.1l69.7 0.3l6.1 1l2.2 1.6l0.6 1.2l-0.3 2.4l-0.9 1.2l-2.1 1.2l-3.1 0.6l-47.7 0.3l-4.9 0.5l-2.8 1l-2.3 2.4l-0.2 2.4l1.2 2.4l4.8 5.9l2.4 10.8l6 8.4l0 2.3l-0.5 1.2l-2.5 1.8l-3.6 0.8l-23.3 0.8l-3.6 1.4l-2.2 2.4l-0.9 2.4l-0.4 3.6l0.5 3.6l1.2 2.4l3 2.5l9.8 2.2l3.3 2.4l1.6 3.3l1.7 8.7l1.5 2.4l5.7 5.9l3.3 11.4l1.2 1.4l2.4 0.8l3.7 -1.8l7.6 -7l2.2 -2.9l1.1 -4.2l0.2 -20.4l0.9 -5.9l2.4 -3.6l10.1 -9.6l2.4 -1.1l3.7 -0.6l3.6 0.4l3.1 1.3l2.8 3.6l2.5 9.6l1.4 1.5l2.5 0.7l2.4 -0.9l6.2 -4.9l3.6 -1.1l3.7 -0.1l4.9 1.4l7.3 6.1l4.9 1.3l1.2 -0.5l3.5 -5.9l3.8 -2.1l6.2 -0.7l17.1 -0.3l3.6 -0.8l1.7 -0.9l1.5 -2.4l-0.6 -2.4l-1.3 -1.3l-4.9 -1.4l-12.3 -0.5l-3.6 -1.2l-1.9 -1.6l-1.5 -2.4l-0.7 -3.5l0.4 -4.8l1.2 -2.8l2.5 -2.1l3.6 -1.2l22 -0.4l3.7 -0.6l2.5 -0.9l7.3 -6.6l3.7 -1.4l7.3 -1.3l2.9 -1.8l2.1 -3.6l2 -8.4l1.6 -1.7l1.2 -0.6l2.4 0.5l1.2 1l1.3 2.6l1.7 7.8l1.7 2.4l2.7 1.7l6.1 1l28.1 -0.1l3.7 0.5l3.4 1.6l2 2.4l1.1 3.6l0.9 15.6l1.1 2.5l2.5 2.3l2.4 1l3.7 0.5l17.1 0.1l7.3 -1l2.5 -1.6l1.8 -2.7l1 -5.9l0.2 -29.9l1.4 -4.8l2.9 -2.7l3.7 -1.1l3.7 0.1l3.6 1l2.5 2.1l1.6 4.2l0.6 13.1l1.1 4.8l1.7 2.4l8.4 8.5l2.5 1.9l2.4 1l11 0.6l4.9 -0.3l3.1 -0.9l2.1 -1.2l6.5 -6l3 -1.2l6.3 -1.2l2.2 -1.1l1.3 -1.3l0.6 -2.4l-0.9 -2.4l-13 -14.3l-0.7 -2.4l0.1 -1.2l1.6 -2.1l2.5 -1.2l4.9 -0.7l23.2 0.1l0 13.2l-1.2 1.5l1.2 1.6l0 33.5l-14.7 0.1l-4.9 0.9l-2.4 1.4l-1.5 1.9l-0.9 2.4l-0.4 3.6l1 4.8l1.8 2.5l3.7 1.8l7.3 1.4l3.7 2.3l1.6 2.7l2 9.1l1.3 1.7l2.4 1.2l0 62.2l-7.3 -0.4l-3.7 -1.1l-2.4 -1.9l-13.5 -13.6l-2.4 -1.7l-2.5 -0.9l-4.9 -0.4l-56.2 0l-6.1 -0.8l-3.4 -2l-1.5 -2.3l-1.7 -8.5l-2 -3.7l-2.4 -1.7l-2.5 -0.8l-7.3 -0.5l-52.6 0.1l-4.9 0.4l-2.4 0.7l-2.8 2l-1.9 3.5l-0.9 15.6l-1.1 3.6l-1.9 2.2l-2.4 1.3l-2.5 0.6l-12.2 0.4l-3.7 0.7l-3.6 1.9l-4.9 4.9l-4.9 2l-7.3 0.4l-130.9 0l-6.1 -0.3l-3.6 -1l-2.5 -1.5l-13.4 -13.4l-3.7 -1.9l0 -15.3l1.1 -1.3l-1.1 -1.8l0 -83.6l6.1 -0.3l3.7 -1.1l1.9 -1.7l0.6 -2.4l-1.3 -2.9l-7.3 -7.7l-3.7 -1.9ZM59.6 100.1l-3.7 0.7l-2.4 1.2l-1.8 1.7l-1.1 2.4l-0.4 4.8l0.7 3.6l1.4 2.4l2.4 1.8l6.1 1.2l19.6 0l4.9 -1.2l3.2 -3l1.1 -3.6l-0.1 -4.8l-1.3 -3.6l-2.8 -2.3l-6.3 -1.3ZM113.4 82.7l-0.5 0.7l0.3 1.2l1.4 0.7l0.7 -0.7l-0.4 -1.2ZM143.9 92.8l-2.6 1.4l-8.1 8.3l-0.6 2.4l0.2 1.2l2.3 2.4l3.9 1.1l3.7 -0.2l2.8 -0.9l2.7 -2.4l1.4 -4.7l-0.5 -4.8l-1.5 -2.7l-1.2 -0.8ZM195.3 81l-2.4 1.5l-2.1 3.3l-0.7 4.8l0 8.4l0.3 3.5l1.3 3.6l2.4 2.4l2.4 1l7.3 0.8l56.3 -0.2l3.6 -0.6l2.5 -1.2l2.1 -2.2l1.1 -2.4l0.8 -8.3l-0.5 -8.4l-2.3 -4.2l-3.7 -2.1l-7.3 -0.7l-51.3 0l-6.2 0.2ZM285.8 80.9l-2.6 1.4l-2.3 3.1l-0.9 4l0.3 3.6l1.4 3.6l5.3 5.3l1.9 3l0.9 3.6l0.9 14.4l2.1 3.5l2.7 0.9l3.7 -1.9l8.6 -7.8l9.8 -10.3l2 -4.8l-0.2 -5.9l-1 -2.4l-2.2 -2.4l-2.3 -1.1l-7.4 -1.3l-2.4 -0.9l-8.6 -7.2l-4.9 -1ZM229.5 10.5l3.7 0.4l3.2 2l0.7 2.4l-1.5 2.6l-2.4 1.3l-3.7 0.5l-3.7 -0.8l-1.7 -1.2l-1.2 -2.4l0.7 -2.4l2.2 -1.6Z" fill="#fdd57a"/><path d="M7.4 10.5l62 -0.2l4.8 1l2.2 1.6l0.6 1.2l-0.3 2.4l-0.9 1.2l-2.1 1.2l-3.1 0.6l-47.7 0.3l-4.9 0.5l-2.8 1l-2.3 2.4l-0.2 2.4l1.2 2.4l4.2 4.7l1.4 3.6l0.3 12l-1.3 5.9l-1.7 2l-2.5 0.6l-2.4 -0.9l-4.9 -3.4l-3.7 -0.2l-2.4 1.6l-7.3 6.9l-2.3 3l-0.8 2.4l-0.4 3.6l0.5 3.6l1.2 2.4l3 2.5l9.8 2.2l3.3 2.4l1.6 3.3l1.7 8.7l1.5 2.4l5.6 5.9l1 2.4l1.6 8.4l2.8 3.6l4.1 1.5l12.2 0.5l4.9 0.9l3 1.9l4.8 4.7l4.4 1.9l9.8 0.5l15.9 -0.5l4.5 -1.9l6.5 -6l12.2 -3.2l6.1 -5.6l3.7 -2.1l6.1 -0.9l18.4 0l4.9 -1.1l2 -1.4l1.6 -2.4l2.1 -9.5l2.8 -3.6l2.5 -1.1l3.6 -0.7l12.3 0.1l2.4 0.7l2.4 1.5l1.6 1.9l0.9 2.4l0.6 4.8l0.4 31l1.4 4.2l5.2 6.6l0.2 2.4l-0.5 1.2l-2.4 2l-2.5 0.7l-9.7 0.5l-168.8 0l-6.1 -0.5l-3.7 -1.5l-2.1 -2.4l-1.2 -3.6l-0.4 -20.3l-0.5 -4.8l-1.9 -3.5l-2.4 -1.2l0 -64.1l3.7 -1.9l8.4 -8.2l1.3 -1.9l1.5 -5.3l0.4 -11.9l0.8 -3.6l2.2 -3.1ZM229.5 10.5l3.7 0.4l3.2 2l0.7 2.4l-1.5 2.6l-2.4 1.3l-3.7 0.5l-3.7 -0.8l-1.7 -1.2l-1.2 -2.4l0.7 -2.4l2.2 -1.6ZM367.3 10.5l7.7 -0.3l0 13.1l-1.3 1.6l1.3 1.7l0 31.4l-2.4 -0.8l-6.2 -4.4l-3.6 0.3l-10.8 10l-1.6 3.6l-0.3 3.6l1 4.8l1.9 2.5l3.7 1.8l7.3 1.4l3.7 2.3l1.6 2.7l2 9.1l1.3 1.7l2.4 1.2l0 52.2l-17.1 -0.4l-3.7 -1.2l-2 -1.6l-1.3 -2.4l-0.7 -3.6l-0.7 -22.7l-1.4 -3.6l-2.4 -1.6l-1.3 -0.1l-2.4 0.9l-4.9 4.1l-2.4 1.3l-7.7 1.4l-3.3 1.4l-2.7 3.4l-2.2 9.9l-1.4 2l-2.3 1.6l-6.1 1.1l-18.4 -0.1l-3.6 -0.4l-3.7 -1.4l-9.1 -9.2l-1.5 -2.4l0.3 -3.5l3.5 -4.8l1.1 -3.6l-1 -2.4l-4.3 -4.9l-1.6 -3.5l-0.1 -5.9l1.7 -3.8l2.4 -1.3l2.5 0.5l9.2 8.2l1.8 2.2l1.5 4.9l0.9 14.4l1.3 2.6l2.4 1.7l2.5 -0.2l2.4 -1.6l17.4 -16.9l2.4 -3.6l0.8 -4.7l-0.8 -4.8l-2.7 -3.5l-2.4 -1.2l-7.4 -1.3l-2.4 -0.9l-8.6 -7.2l-4.9 -1.1l-13.4 -0.5l-2.8 -1.1l-2.6 -2.3l-1.5 -4.8l0.3 -4.8l1.5 -3.6l5.1 -5.2l1.8 -3.2l0.9 -4.7l0.4 -12l1.7 -4.8l9.9 -9.4l2.4 -1l2.5 0.5l1.5 1.6l1.3 3.6l0.6 22.7l0.8 3.5l1.5 2.4l4 2.3l6.1 1l3.7 1.3l6.1 5.7l2.5 1.5l3.6 0.8l4.9 -0.3l3.3 -1.5l2 -2.4l1 -2.4l1.1 -7.2l1.9 -3.5l15.3 -15.6l1.8 -4.8l0.5 -13.1l0.8 -3.6l1.5 -2.4l1.4 -1.2ZM185.7 30.8l7.2 -0.8l34.2 -0.2l6.1 0.6l3.4 1.6l2 2.4l1.2 4.8l-0.5 4.8l-2.5 4.2l-9.7 9.6l-4.9 1.9l-13.5 0.5l-4.9 1.4l-11 10.2l-4.9 5.3l-2.4 1.6l-3.7 1.1l-3.6 0.3l-11 -0.4l-2.5 -0.8l-1.9 -1.4l-1.7 -2.4l-0.7 -2.4l-0.6 -20.3l0.4 -4.8l0.7 -2.4l1.6 -2.4l2.2 -1.5l8.6 -1.8l3.4 -1.5l5.1 -4.9ZM127.5 40.4l12.7 -0.3l3.7 0.6l2.5 1.2l2 2.1l1.4 3.6l0 4.8l-1.3 3.5l-3.3 2.9l-4.9 1.1l-12.3 -0.2l-2.4 -0.6l-2.4 -1.4l-1.6 -1.8l-1 -2.3l-0.4 -3.6l0.5 -3.6l1 -2.4l1.5 -1.7ZM56.1 60.7l5.9 -0.4l2.5 0.7l2.4 1.4l2.2 3.1l1.5 7.2l1.2 2.9l2.4 2.3l4.9 1.9l0.7 1.2l-0.3 12l-1.6 3.6l-2.4 2l-6.1 1.3l-20.8 -0.2l-4.9 -1.6l-2.4 -2.7l-1 -3.6l-0.3 -4.8l0.2 -8.4l0.8 -3.5l2.4 -3.6l8.4 -8.4ZM83.2 75.1l0.8 -0.5l1.3 0.2l0 1.5l-1.3 1l-1.2 0.2l-0.3 -1.2ZM118.2 90.6l8.6 -0.3l6.1 0.5l2.3 1l1.3 1.2l0.6 2.4l-1.7 2.8l-3.7 1.4l-8.5 0.4l-6.2 -0.7l-2.4 -1.2l-1.2 -1.4l-0.4 -2.5l1.8 -2.4Z" fill="#fbac34"/><path d="M48.5 10.5l9.8 -0.2l4.9 0.6l3.2 2l0.6 1.2l-0.1 1.9l-1.1 1.7l-1.3 0.9l-3.7 0.9l-9.8 0.2l-4.8 -0.8l-2.9 -2.4l-0.3 -2.4l1.9 -2.4ZM285.8 30.8l6 -0.5l4.7 1.7l2.6 3.6l0.7 4.8l-0.9 4.8l-2.1 3.1l-8.6 7.9l-2.1 0.9l-1.6 0.1l-2.4 -1.5l-1.5 -3.3l-0.5 -12l1.3 -6l1.9 -2.2ZM212.8 33.2l2.1 -0.5l2.4 1l1.4 1.9l0.7 2.4l0.2 3.6l-0.9 3.6l-1.4 2l-2.5 1.6l-4.8 1l-19.6 -0.2l-4.5 -0.8l-2.7 -2.4l-0.1 -2.5l2.4 -2.5l3.7 -0.9l11 -0.4l3.6 -0.6l3.1 -1.5ZM129.2 40.4l3.7 0.2l2.5 0.8l1.9 1.4l1.6 2.4l0.7 3.6l-0.2 3.6l-0.9 2.3l-1.9 2.1l-2.4 0.4l-2.5 -1.1l-8.4 -8.5l-0.6 -2.4l0.8 -2.4l2.1 -1.5ZM2.4 83.4l3.4 -0.5l2.4 1.8l1.1 2.3l1.9 8.4l1.5 2.4l5.6 5.9l1 2.4l1.6 8.4l2.8 3.6l2.9 1.3l6.1 1l3.5 1.3l6.3 5.8l3.6 1.8l4.9 0.6l18.4 0.3l4.8 0.9l2.3 1.3l1.8 2.4l0.7 2.4l-0.2 2.4l-5.8 2.9l-6.1 5.5l-2.4 1.1l-3.7 0.7l-48.9 0.2l-4.9 -0.5l-3.5 -1.5l-2.1 -2.4l-1.1 -3.6l-0.4 -21.5l-1.3 -6l-2 -2.4l-2.2 -1.2l-3.3 -0.7l-6.1 -0.2l0 -20l6.1 -0.2l3.7 -0.8l2.4 -1.3ZM362.4 83.4l2.8 -0.7l2.5 1.3l1.7 3l1.9 7.9l1.3 1.7l2.4 1.2l0 52.2l-6.1 -0.2l-3.1 -0.6l-2.3 -1.2l-2.1 -2.4l-1.3 -6l-0.3 -20.3l-0.7 -3.6l-1.3 -2.4l-2.4 -1.9l-2.4 -0.9l-13.5 -0.6l-3.6 -0.7l-3.7 -2.4l-1.8 -4.3l-0.1 -3.5l0.7 -3.6l1.2 -2.1l1.6 -1.5l4.5 -1.5l12.2 -0.5l3.7 -0.6l3.7 -2ZM164.6 101.4l5 -1.1l4.9 0.7l2.6 1.5l2.2 3.6l0.7 6l-0.5 10.8l-1.5 3.5l-3.5 2.6l-3.7 0.7l-4.9 -0.5l-2.8 -1.6l-2.3 -3.5l-0.8 -6l0.4 -10.8l1.4 -3.6ZM303.4 125.3l0.7 -0.5l1.3 0.5l-0.5 1.1l-0.8 0.6l-1.2 -0.4ZM295 133.6l1.7 -0.5l0.4 0.5l-0.5 1.2l-1.1 0.5l-0.7 -0.5ZM82.6 143.2l1.9 0l0.8 1.6l-1.3 0.5l-1.2 -0.9Z" fill="#f6862c"/><path d="M3.3 83.4l2.5 -0.4l2.4 1.9l2.9 10.5l1.5 2.4l4.9 4.7l1.3 2.4l0.9 4.8l0.3 12l1.9 4.7l2.2 2l3.7 1.2l22 0.5l3.7 0.5l2.4 1l2.5 2.4l1.3 4.4l-0.3 4.8l-0.8 2.4l-1.5 1.8l-2.9 1.8l-4.4 0.7l-26.9 0.1l-7.1 -0.8l-3.6 -2.4l-1.3 -2.4l-0.7 -3.6l0 -19.1l-0.5 -4.8l-1.5 -3.6l-6.1 -6.4l-1.6 -4.4l0.1 -14.3l0.7 -2.4ZM363.3 83.4l1.9 -0.5l1.2 0.4l1.7 1.3l1.1 2.4l2.1 8.2l1.3 1.5l2.4 1.1l0 50l-2.2 -1l-1.1 -1.2l-1.2 -3.6l-0.5 -21.5l-0.7 -4.8l-2.1 -3.6l-4.8 -4.8l-1.9 -4.8l0.1 -14.3l1 -2.9Z" fill="#e9522b"/><path d="M374.5 103.7l0.5 -0.3l0 3.1l-1.2 -1.6ZM25.6 131.2l4.6 -1l8.6 -0.1l4.9 0.6l2.4 1.1l2 1.8l1.4 3.6l0.2 4.8l-1.1 3.6l-2.5 2.6l-3.6 1.4l-4.9 0l-4.4 -1.6l-10.1 -10.8l-0.4 -2.4l0.3 -1.2Z" fill="#c91f28"/><ellipse cx="11" cy="104" rx="4.5" ry="15" fill="#e9522b" transform="rotate(-12 11 104)"/><ellipse cx="11" cy="104" rx="2.5" ry="10" fill="#c91f28" transform="rotate(-12 11 104)"/>
<g fill="#d3d3d3" stroke="#000" stroke-width="0.75" vector-effect="non-scaling-stroke" stroke-linejoin="round">
<use href="#landg"/>
<use href="#landg" transform="translate(360 0)"/>
</g>
</g>
<rect x="0" y="0" width="189.2" height="95" fill="none" stroke="#1a1a1a" stroke-width="1.1"/><path d="M0 0v-3.2M0 95v3.2M10.51 0v-1.6M10.51 95v1.6M21.02 0v-1.6M21.02 95v1.6M31.53 0v-3.2M31.53 95v3.2M42.04 0v-1.6M42.04 95v1.6M52.56 0v-1.6M52.56 95v1.6M63.07 0v-3.2M63.07 95v3.2M73.58 0v-1.6M73.58 95v1.6M84.09 0v-1.6M84.09 95v1.6M94.6 0v-3.2M94.6 95v3.2M105.11 0v-1.6M105.11 95v1.6M115.62 0v-1.6M115.62 95v1.6M126.13 0v-3.2M126.13 95v3.2M136.64 0v-1.6M136.64 95v1.6M147.16 0v-1.6M147.16 95v1.6M157.67 0v-3.2M157.67 95v3.2M168.18 0v-1.6M168.18 95v1.6M178.69 0v-1.6M178.69 95v1.6M189.2 0v-3.2M189.2 95v3.2M0 0h-3.2M189.2 0h3.2M0 7.92h-1.6M189.2 7.92h1.6M0 15.83h-1.6M189.2 15.83h1.6M0 23.75h-3.2M189.2 23.75h3.2M0 31.67h-1.6M189.2 31.67h1.6M0 39.58h-1.6M189.2 39.58h1.6M0 47.5h-3.2M189.2 47.5h3.2M0 55.42h-1.6M189.2 55.42h1.6M0 63.33h-1.6M189.2 63.33h1.6M0 71.25h-3.2M189.2 71.25h3.2M0 79.17h-1.6M189.2 79.17h1.6M0 87.08h-1.6M189.2 87.08h1.6M0 95h-3.2M189.2 95h3.2" stroke="#000" stroke-width="0.9" fill="none"/>
<rect x="145.98" y="75.5" width="41.02" height="17" fill="#fff" stroke="#333" stroke-width="0.8"/>
<text x="166.49" y="87.1" font-size="10" text-anchor="middle" fill="#111">(f 1985)</text>
</g>
<g transform="translate(46.5 238.9)">
<rect x="0" y="0" width="189.2" height="95" fill="#fff"/>
<g transform="scale(0.525556 0.527778)" clip-path="url(#pc)">
<path d="M-15 10.5l0 -0.5l166.3 0.2l4.8 1.5l2.3 2.4l1 2.4l1.2 7.2l2 3.6l3.3 1.9l3.7 0.6l4.9 -0.8l2.4 -1.4l1.3 -1.3l1.1 -2.6l1.7 -8.4l2.1 -2.9l3.6 -1.8l4.9 -0.3l3.7 1l2.4 1.9l1.7 3.3l1.7 8.4l1.5 2.4l2.5 1.6l6.1 1l20.8 0.2l4.8 1.9l6.2 5.8l3.6 1.6l4.9 0.5l15.9 0.1l14.7 -0.5l2.4 -0.8l2.2 -1.9l0.6 -2.4l-0.9 -2.4l-12.1 -13.1l-1.4 -2.4l-0.1 -2.4l1.9 -2.4l3.2 -1.2l6.6 -0.5l7.4 0.3l3.6 1l2.5 1.6l10.3 10.8l1.5 4.8l0.5 13.1l1.6 4.8l2 1.8l2.4 1.1l8.6 0.7l7.3 -0.3l3.7 -1.2l2.8 -2.1l8.4 -9.6l0 -3.6l-5.1 -6.4l-1.6 -4.3l0.2 -6l1 -2.4l1.6 -1.9l2.5 -1.3l3.6 -0.7l25.7 -0.2l0 150l-13.4 0l-4.9 -0.6l-3.7 -1.6l-7 -6.3l-5.2 -1.3l-73.4 -0.6l-4.2 -1.6l-5.6 -5.4l-2.4 -1.4l-3.7 -0.9l-12.2 -0.5l-3.7 -0.7l-3.4 -1.9l-3.9 -4l-2.5 -1.7l-3.6 -1.2l-6.1 -0.3l-7.4 0.2l-4.9 1.4l-2.4 1.9l-13.1 13.3l-2.8 1.9l-4.9 1.1l-11 0.3l-3.7 0.7l-3.6 1.9l-6.1 5.7l-4.9 1.4l-146.7 0.2l-6.2 -0.2l-3.6 -1l-2.5 -1.4l-4.9 -4.5l-2.4 -0.9l0 -115.6l0.9 -0.8l0 -1.2l-0.9 -0.8ZM65.7 100.9l-2.8 1.7l-2.2 3.5l-0.4 4.8l1.2 4.8l2.2 2.4l3.2 1.3l4.9 0.3l3.7 -1.1l2.4 -2l1.5 -3.3l0.3 -4.8l-0.9 -3.6l-1.7 -2.4l-2.9 -1.6l-4.8 -0.6ZM97.5 30.7l-3 1.3l-1.6 2.4l0.9 2.9l3.7 2l34.2 0.7l4.9 1.8l4.9 4.2l2.4 1.2l2.5 -0.3l1.2 -0.8l1.7 -3.3l0.2 -4.8l-1 -3.6l-2.1 -2.4l-3.7 -1.5l-37.9 -0.2ZM208.7 90.6l-3.7 1.1l-1.4 1.3l-0.7 2.4l1.4 2.4l2.1 1.2l3.6 0.5l3.6 -0.5l2.1 -1.2l1.4 -2.4l-1 -2.8l-2.5 -1.5ZM229.5 10.5l3.7 0.4l3.2 2l0.7 2.4l-1.5 2.6l-2.4 1.3l-3.7 0.5l-3.7 -0.8l-1.7 -1.2l-1.2 -2.4l0.7 -2.4l2.2 -1.6Z" fill="#fdd57a"/><path d="M-3.1 10.5l7.6 -0.5l69.7 0l9.8 0.8l3.5 2.1l1.5 2.4l0.8 3.6l0.7 14.3l0.9 2.4l2.1 2.4l2.8 1.3l3.6 0.6l29.4 0.1l6.1 1.1l2.5 1.7l10.4 10.8l1.5 3.5l0.8 9.6l0.7 1.5l1.2 0.5l3.7 -1.2l2.6 -3.2l0.7 -3.6l0.6 -11.9l1.4 -4.8l10.2 -10.8l4 -2.4l7.4 -0.8l47.6 0.1l4.9 1.2l2.5 1.7l4.9 4.8l3.6 1.6l6.1 0.6l28.2 -0.2l3.6 -0.7l3.7 -2.2l8.2 -8.4l1.7 -2.4l2.3 -4.7l1.2 -0.4l3.7 0.9l2.5 1.9l1.5 3.5l0.6 4.7l0 7.2l-0.6 4.8l-1.5 3.2l-4.4 5.2l-0.6 1.2l0 2.3l1.3 1.9l2.4 1.3l3.7 0.5l3.7 -0.4l3.6 -1.8l4.9 -4.8l2.5 -1.5l4.9 -1l12.2 -0.4l2.4 -0.6l2.9 -1.5l8.2 -8.4l1.9 -3.6l-0.9 -3.6l-4.2 -4.7l-1.7 -3.6l-0.2 -6l1.4 -3.8l2.4 -2.3l3.7 -1.3l17.1 -0.3l0 140l-14.7 -0.1l-4.6 -0.7l-2.7 -1.4l-6.3 -5.8l-2.3 -1.1l-3.6 -0.7l-58.7 -0.2l-4.6 -0.4l-2.8 -0.9l-3 -2.7l-1.3 -3.6l-0.5 -22.7l-0.6 -3.6l-1 -2.4l-11.2 -11.9l-8 -7.4l-3.7 -1.8l-2.4 0.4l-6.2 4.9l-3.6 1.5l-23.2 0.7l-3.7 0.8l-2.5 1.6l-1 1.7l0.1 2.4l5.5 7.1l1.2 3.6l0.3 12l-1.1 6l-1.3 1.8l-2.4 1.7l-11 2.7l-7.4 6.5l-3.6 1.5l-22 0.6l-4.9 0.6l-3.7 1.8l-6.1 5.7l-3.7 1.4l-3.7 0.3l-135.7 0.1l-4.9 -0.3l-3.6 -0.9l-2.5 -1.4l-4.9 -4.5l-2.4 -0.9l0 -94l3.7 -1.8l6.8 -7l1.6 -2.4l0 -3.6l-5.6 -7.1l-0.9 -2.4l-0.5 -3.6l0.4 -3.6l1.1 -2.4l2 -2.1ZM59.6 100.1l-3.7 0.7l-2.4 1.2l-1.7 1.7l-1.1 2.4l-0.4 4.8l0.6 3.6l1.4 2.4l2.4 1.8l6.1 1.2l28.1 -0.1l3.7 -0.4l2.4 -1l2.2 -2.7l-0.1 -2.4l-1.6 -2.4l-6.7 -7.2l-3.5 -2.5l-6.2 -1.1ZM146.4 72.6l-1.7 1.2l0.5 1.6l1.2 -0.2l0.8 -1.3ZM217.3 60.5l-3.7 1.4l-2.7 3.6l-0.7 4.8l0.9 4.8l1.7 2.4l3.3 1.9l4.9 0.6l3.6 -0.8l2.6 -1.7l2.1 -3.6l0.5 -4.8l-0.7 -3.6l-2 -3l-2.5 -1.5l-3.6 -0.7ZM137 10.5l4.4 -0.2l3.8 0.9l2.3 1.7l1.5 2.4l0.7 3.6l-0.4 4.8l-1.7 3.3l-2.4 1.8l-3.7 1l-4.9 -0.3l-3.7 -1.9l-1.8 -2.7l-0.9 -4.8l0.8 -4.8l1.9 -2.8ZM294.8 15.3l0.8 -0.6l1.2 0.6l0.3 1.2l-0.3 0.7l-1.3 -0.3ZM236.9 110.9l4.8 -0.3l3.7 1.4l1.6 2.5l-0.5 2.4l-2.3 1.8l-2.5 0.7l-3.6 -0.1l-3.4 -1.2l-1.2 -1.2l-0.5 -2.4l1.4 -2.4Z" fill="#fbac34"/><path d="M16.9 10.5l8.4 -0.5l56.3 0.3l4.5 1.4l2.3 2.4l1.2 3.6l0 4.8l-1.3 3.6l-1.8 1.9l-2.5 1.2l-3.6 0.7l-62.4 -0.2l-3.7 -1.2l-1.6 -1.2l-1.6 -2.4l-0.8 -3.6l0.1 -3.6l1.2 -3.6l2.3 -2.4ZM373.2 12.9l1.8 -0.7l0 15.6l-2.9 -1.7l-1.2 -2.4l-0.5 -2.4l0.4 -4.8l1.2 -2.4ZM185.8 30.8l8.2 -0.8l36.7 0.5l4.8 1.5l1.1 1.2l0.4 2.4l-0.5 1.2l-2.1 1.8l-8.6 2l-2.4 1.2l-17.2 16.5l-2.4 1l-3.6 0.6l-11 -0.1l-3.7 -0.8l-2.9 -1.9l-1.6 -2.4l-0.8 -3.5l-0.2 -9.6l0.5 -4.8l1.7 -3.6ZM295.7 30.8l4.7 -0.6l3.7 0.6l2.4 1.2l2.1 2.4l1 3.6l-0.1 4.8l-0.7 2.4l-2.3 2.8l-2.4 1.2l-3.7 0.6l-18.3 -0.1l-6.1 -0.9l-2.5 -1.9l-0.5 -2.9l1.7 -2.2l11.1 -3.1l7.3 -6.6ZM127.6 40.4l4.1 -0.1l3.7 1l2 1.5l1.5 2.4l0.8 3.6l-0.3 4.8l-1.6 3.1l-2.4 2l-3.7 1l-4.9 0.3l-31.8 -0.3l-2.4 -0.2l-1.2 -0.6l-0.2 -1.8l0.7 -2.4l1.8 -2.3l1.3 -0.9l3.7 -1l11 -0.4l4.9 -0.9l2.8 -1.6l5.8 -5.5ZM56.1 60.7l4.7 -0.6l9.8 -0.1l15.9 0.1l2.9 0.6l0.6 6l-0.7 7.2l-1.6 3.4l-4.3 4.9l-0.9 2.4l0.4 2.4l4.1 6l0.3 2.4l-0.8 1.7l-2.5 1.8l-3.6 0.8l-22 0l-4.9 -1.6l-6.1 -5.7l-3.7 -1.8l-6.1 -0.7l-8.6 0.1l-4.9 1.5l-2.6 2.7l-1.2 4.8l0.8 5.9l1.6 2.4l2.6 1.7l8.6 1.7l2.4 1l6.2 5.7l3.6 1.9l4.9 0.6l19.6 0.3l3.6 0.6l2.5 1.2l9.8 9.4l2.4 3.4l0.9 6l-1.2 4.8l-3.3 3.1l-2.5 0.8l-4.9 0.5l-66 0l-4.9 -0.5l-3.7 -1.4l-10 -9.7l-1.8 -2.4l-1 -2.4l-1.2 -16.7l-1.9 -3.5l-2.4 -1.2l0 -32.2l42.8 0.2l6.1 -0.7l3.7 -2l14.6 -14.8ZM326.2 60.7l6 -0.3l2.5 0.6l2.4 1.5l2 3l2 9.6l1.7 2.4l2.9 1.6l6.1 0.9l23.2 0l0 70l-7.3 -0.4l-3.7 -1.1l-2.4 -1.9l-9.3 -9.4l-1.9 -4.8l-1.1 -16.1l-1.5 -3l-3.4 -2.4l-3.6 -0.6l-3.7 0.2l-2.4 0.8l-2.5 1.9l-1.3 2.5l-1.3 7.2l-1.4 3.5l-11.9 11.9l-4.9 1.5l-11 0.1l-3.6 -0.5l-2.5 -0.9l-1.7 -1.3l-1.5 -2.4l-1 -4.8l-0.4 -11.9l-1.9 -4.8l-3.3 -2.3l-9.8 -2.3l-3 -2.6l-1.4 -4.7l0.3 -4.8l1.8 -3.6l3.6 -2.2l7.3 -0.9l35.5 -0.1l3.6 -0.4l3 -1.2l1.8 -2.4l-0.1 -2.4l-5.9 -8l-0.8 -2.7l-0.2 -3.6l0.7 -3.6l1.4 -2.4ZM184.6 101.4l3.4 -1l4.8 0.1l2.6 0.9l2.8 2.3l1.3 3.6l0.1 4.8l-1.1 3.6l-2 2.3l-3.7 1.5l-4.9 0.1l-3.6 -1.1l-2.5 -2.2l-1.6 -4.2l0.2 -4.8l1.4 -3.6ZM163.1 115.7l1.6 -1l0.6 1l-0.6 1l-1.2 0.4ZM149.1 120.5l8.2 0.3l1.3 0.9l0.1 1.2l-1.3 3.5l-2.5 2.1l-3.6 0.9l-3.7 -0.1l-3.5 -1.7l-1.2 -2.3l0.7 -2.4l1.6 -1.3Z" fill="#f6862c"/><path d="M46.9 10.5l5.3 -0.5l8.6 0.2l3.7 0.7l2.4 1.5l2.1 2.9l0.7 3.6l-0.3 4.7l-1.3 2.7l-2.4 2.2l-4.9 1.3l-12.2 0l-4.9 -1.7l-2 -2l-1 -2.4l-0.3 -6l0.6 -2.4l1.5 -2.4l2.4 -1.7ZM129.2 40.4l3.7 0.2l2.5 0.8l1.9 1.4l1.6 2.4l0.7 3.6l-0.2 3.6l-0.9 2.3l-1.9 2.1l-2.4 0.4l-2.5 -1.1l-8.4 -8.5l-0.6 -2.4l0.8 -2.4l2.1 -1.5ZM279.6 40.4l22.1 0.2l3.6 1.3l1.2 1.3l0.6 2l-0.6 1.6l-1.2 1.3l-3.7 1.3l-23.2 0l-2.4 -0.6l-2 -1.2l-0.8 -1.2l-0.2 -2.4l2.1 -2.4ZM5.2 81l4.3 -0.8l4.8 0.7l2.5 1.3l2.4 3.6l0.8 6l-0.4 10.7l-1.6 4l-3.7 2.8l-3.6 0.7l-4.9 -0.7l-3.5 -2l-4.7 -4.8l-2.8 -1.6l-3.7 -0.9l-6.1 -0.3l0 -9.5l6.1 -0.2l3.7 -0.9l3.3 -2.1l4 -4.2ZM365.1 81l3.8 -0.8l6.1 -0.2l0 30.3l-6.1 -0.3l-3.7 -0.9l-2.4 -1.4l-7 -6.3l-9.4 -2.4l-2.1 -1.2l-1.1 -1.5l-0.2 -2.1l1.8 -2.4l10.6 -3l2.5 -1.6l4.9 -4.9ZM7.3 120.5l9.5 -0.6l12.2 0.2l4.9 0.6l3.7 1.9l5.1 5l3.4 1.7l4.9 0.6l18.4 0.4l4.8 0.9l3.2 2.4l1.1 2.4l0 2.4l-1.8 1.1l-8.6 0.6l-3.6 1.1l-2.5 1.7l-4.9 4.8l-3.6 1.7l-11 0.6l-11 -0.1l-4.9 -0.5l-2.5 -0.9l-2.4 -1.7l-4.4 -4.8l-5.4 -4.8l-8.5 -9.6l-0.7 -2.3l0.6 -2.3l1.4 -1.3ZM297.7 120.5l11.3 -0.2l4.9 0.8l2.5 1.8l0.6 1.2l-0.2 2.3l-0.9 1.2l-2 1.3l-9.5 2.3l-6.4 5.2l-2.2 0.8l-1.5 -0.1l-1.9 -1.1l-1.4 -2.4l-0.6 -3.6l0.2 -3.1l1.1 -2.8l1.4 -1.7ZM367.3 120.5l7.7 -0.7l0 18.2l-3.7 -1.8l-7.1 -7.4l-1.4 -2.4l0 -2.3l0.6 -1.2l1.8 -1.6ZM82.9 143.2l1.5 0l0.9 1.5l-1.3 0.5l-0.9 -0.8Z" fill="#e9522b"/><path d="M52.4 14.1l2.3 -1.2l1.2 0.2l1.7 1l1.3 2.4l0.6 3.6l-0.6 3.6l-1.5 2.4l-1.5 0.8l-2.4 -0.2l-1.3 -1l-1.2 -2.3l-0.3 -5.7ZM6.5 81l5.4 -0.4l3.7 1.5l1.5 2.5l-0.7 2.4l-2.1 1.6l-3.1 0.8l-3 0l-3.3 -1.2l-1.3 -1.2l-0.7 -2.4l1.4 -2.4ZM366.4 81l8.6 -0.8l0 9.5l-7.3 -0.4l-3.7 -1.8l-1 -1.7l0.3 -2.4l1 -1.2ZM295.1 121.7l4.1 -1.1l4.9 0.7l2.4 1.9l0.6 2.1l-0.3 1.1l-1.5 1.7l-2.4 1l-3.7 0.3l-3.1 -0.6l-2 -1.2l-1.2 -2.3l0.8 -2.4ZM37.3 140.8l7.6 -0.5l7.8 0.5l3.2 1.6l1.1 2l0 1.2l-1.5 2.4l-3.3 1.3l-7.3 0.4l-7.3 -0.4l-3.1 -1.3l-1.5 -2.4l0 -1.2l0.9 -1.8Z" fill="#c91f28"/><ellipse cx="324.5" cy="34.5" rx="3" ry="2.5" fill="#8fcff2" transform="rotate(-12 324.5 34.5)"/><ellipse cx="11" cy="104" rx="4.5" ry="15" fill="#e9522b" transform="rotate(-12 11 104)"/><ellipse cx="11" cy="104" rx="2.5" ry="10" fill="#c91f28" transform="rotate(-12 11 104)"/>
<g fill="#d3d3d3" stroke="#000" stroke-width="0.75" vector-effect="non-scaling-stroke" stroke-linejoin="round">
<use href="#landg"/>
<use href="#landg" transform="translate(360 0)"/>
</g>
</g>
<rect x="0" y="0" width="189.2" height="95" fill="none" stroke="#1a1a1a" stroke-width="1.1"/><path d="M0 0v-3.2M0 95v3.2M10.51 0v-1.6M10.51 95v1.6M21.02 0v-1.6M21.02 95v1.6M31.53 0v-3.2M31.53 95v3.2M42.04 0v-1.6M42.04 95v1.6M52.56 0v-1.6M52.56 95v1.6M63.07 0v-3.2M63.07 95v3.2M73.58 0v-1.6M73.58 95v1.6M84.09 0v-1.6M84.09 95v1.6M94.6 0v-3.2M94.6 95v3.2M105.11 0v-1.6M105.11 95v1.6M115.62 0v-1.6M115.62 95v1.6M126.13 0v-3.2M126.13 95v3.2M136.64 0v-1.6M136.64 95v1.6M147.16 0v-1.6M147.16 95v1.6M157.67 0v-3.2M157.67 95v3.2M168.18 0v-1.6M168.18 95v1.6M178.69 0v-1.6M178.69 95v1.6M189.2 0v-3.2M189.2 95v3.2M0 0h-3.2M189.2 0h3.2M0 7.92h-1.6M189.2 7.92h1.6M0 15.83h-1.6M189.2 15.83h1.6M0 23.75h-3.2M189.2 23.75h3.2M0 31.67h-1.6M189.2 31.67h1.6M0 39.58h-1.6M189.2 39.58h1.6M0 47.5h-3.2M189.2 47.5h3.2M0 55.42h-1.6M189.2 55.42h1.6M0 63.33h-1.6M189.2 63.33h1.6M0 71.25h-3.2M189.2 71.25h3.2M0 79.17h-1.6M189.2 79.17h1.6M0 87.08h-1.6M189.2 87.08h1.6M0 95h-3.2M189.2 95h3.2" stroke="#000" stroke-width="0.9" fill="none"/>
<rect x="143.2" y="75.5" width="43.8" height="17" fill="#fff" stroke="#333" stroke-width="0.8"/>
<text x="165.1" y="87.1" font-size="10" text-anchor="middle" fill="#111">(g 2000)</text>
</g>
<g transform="translate(269.3 238.9)">
<rect x="0" y="0" width="189.2" height="95" fill="#fff"/>
<g transform="scale(0.525556 0.527778)" clip-path="url(#pc)">
<path d="M-15 10.5l0 -0.5l316.6 0.3l4.9 1.7l2.5 3.3l0.9 4.8l0.4 11.9l1.7 4.8l9.2 9l3.7 1.7l2.4 -0.6l2.2 -1.7l7.5 -7.2l2.1 -3.6l0.7 -4.7l-0.9 -4.8l-6 -8.4l-0.1 -2.4l1.9 -2.3l3.2 -1.3l4.1 -0.4l33 -0.1l0 150l-13.4 0l-4.9 -0.6l-3.7 -1.6l-7 -6.3l-5.2 -1.3l-102.7 -0.5l-4.9 -1.7l-7.4 -6.5l-2.4 -0.9l-3.7 -0.4l-3.6 0.5l-2.5 1.1l-6.8 6.2l-5.4 1.8l-48.9 0.2l-6.1 0.6l-3.7 1.8l-6.1 5.7l-2.4 1.1l-3.7 0.7l-127.2 0.1l-4.9 -0.2l-3.6 -1l-2.5 -1.4l-4.9 -4.5l-2.4 -0.9Z" fill="#fdd57a"/><path d="M-15 10.5l23.2 -0.5l81.9 0.1l3.7 0.6l2.5 1l6.1 5l2.4 0.7l3.1 -0.9l5.8 -4.8l4.6 -1.4l31.7 -0.2l3.7 0.5l2.5 1l7.3 6.6l2.4 1l3.7 0.6l3.7 -0.4l2.4 -0.8l8 -6.9l3 -1.1l3.7 -0.4l3.7 0.6l2.4 1l6.1 5.8l2.5 1.4l3.6 0.8l6.1 0.2l6.2 -0.2l3.6 -0.7l2.6 -1.4l6 -5.7l2.4 -1.1l3.7 -0.7l62.3 0.1l4.9 1.7l1.9 2.1l1 2.4l0.5 4.8l0.2 19.1l1.3 5.2l1.6 2l3.3 1.7l8.6 0.7l7.3 -0.3l3.7 -1.2l8.5 -7.2l8.6 -1.8l3.4 -1.5l2.1 -2.4l0.9 -2.4l0.4 -3.5l-0.5 -3.6l-1.1 -2.4l-1.5 -1.7l-2.5 -1.3l-2.4 -0.6l-12.3 -0.5l-3.6 -0.8l-1.7 -1.1l-1.3 -2.4l0.5 -2.1l1.3 -1.3l2.4 -1.1l3.7 -0.5l34.2 -0.3l0 148l-2.4 -0.9l-6.6 -5.6l-5.7 -1.4l-77 -0.1l-6.1 -0.5l-4 -1.5l-5.8 -5.5l-3.3 -1.7l-4 -0.7l-23.3 -0.6l-3.6 -1.5l-7.4 -6.5l-2.4 -0.9l-3.7 -0.4l-3.6 0.5l-2.5 1.1l-6.1 5.7l-3.7 1.8l-14.6 0.9l-3.7 0.7l-3.7 2.2l-4.9 4.8l-4.8 1.7l-3.7 0.1l-3.7 -0.9l-2.4 -1.5l-4.9 -4.9l-2.5 -1.3l-4.9 -0.9l-4.1 0.6l-4.1 2.4l-14.4 14.3l-3 1.6l-3.7 0.7l-42.8 -0.1l-4.9 -1.8l-6.1 -4.9l-2.4 -0.4l-2.5 0.9l-6.1 5l-3.7 1.2l-33 0.1l-3.6 -0.7l-2.5 -1.2l-6.1 -5.7l-3.7 -1.6l-4.9 -0.6l-13.4 0l0 -110l7.3 -0.4l4.1 -1.6l2.7 -3.6l0.7 -4.7l-1 -4.8l-2.8 -3.3l-3.7 -1.4l-7.3 -0.5ZM66.9 110.9l-2.5 1.2l-1.4 2.4l0.5 2.4l1.2 1.2l3.4 1.2l3.7 0l2.4 -0.6l2.3 -1.8l0.5 -2.4l-1.5 -2.5l-3.7 -1.3ZM216.1 80.8l-3.7 1.9l-8.6 9.1l-1.1 3.6l1.1 2.1l1.3 1l4.9 1.1l3.6 -0.3l2.5 -0.9l2.4 -1.9l7.8 -8.3l1 -3.6l-1.5 -2.4l-3.6 -1.6ZM243 83.4l-1.2 1.2l-1.2 2.4l-1.9 8.4l-5.6 7.1l-0.6 2.4l0.7 2.6l8.5 9.3l3.7 2.3l4.9 0.8l8.6 0l4.8 -0.6l2.5 -1.1l2.3 -2.5l1.1 -3.6l0 -4.8l-1.3 -3.6l-10.7 -11.4l-8.5 -7.8l-3.7 -1.8Z" fill="#fbac34"/><path d="M-15 10.5l22 -0.5l67.2 0l9.8 0.8l2.5 1.2l1.9 2.1l1 2.4l1.7 8.4l1.5 2.4l2.4 1.7l4.9 1.1l19.6 0.1l4.6 0.6l2.7 1.3l7.4 6.5l9.7 2.4l2.5 1.7l1 2.5l-0.7 2.4l-12.5 13.7l-1.5 3l0.5 2.4l1 1.2l2.4 1.2l4.9 0.8l29.3 -0.4l3.7 -0.9l2.1 -1.9l0.5 -2.4l-1.6 -2.4l-2.2 -1.2l-6.1 -1.3l-2.4 -1.1l-1.3 -1.3l-0.6 -2.3l1.2 -2.3l1.8 -1.2l3.7 -0.9l12.2 -0.8l2.5 -0.8l2.5 -2.3l0.2 -2.4l-1.5 -2l-2.4 -1.1l-8.6 -2.2l-2.3 -1.9l-1.3 -2.4l-0.7 -4.7l0.6 -3.9l2.1 -3.3l2.8 -1.6l7.4 -0.9l56.2 0.2l3.7 0.5l2.4 1.1l1.6 1.9l0.3 2.4l-1.1 2.4l-4.3 5.9l-1.4 5.7l-12.2 0.2l-4.9 1.6l-11.1 10.5l-4.8 5.4l-4.9 4.3l-11 11.8l-1.2 3.6l-0.4 4.7l0.1 16.8l1 5.9l3 3.5l2.4 1l7.3 1.6l2 1.1l1.5 2.4l-0.3 2.4l-1.7 2.4l-6.7 7.1l-3.3 2.4l-11 2.6l-2.5 1.7l-4.9 4.8l-4.8 1.8l-39.2 0.3l-6.1 0.5l-3.6 1.6l-7.4 6.4l-4.9 1.3l-100.2 0.1l-4.9 -0.7l-2.6 -1.2l-14.5 -14.2l-3.7 -1.8l0 -74l2.4 -0.8l4.9 -3.8l2.5 -0.7l1.2 0.2l1.2 0.7l1.7 2.3l2.5 9.6l1.9 2.4l2.5 1.2l6.1 0.9l29.3 -0.2l4.9 -1.4l7.3 -6.5l3.7 -1.4l6.1 -0.5l35.5 0l6.1 -1l3.7 -2.4l7.3 -7.8l1.4 -2.4l0 -2.4l-1.4 -2l-2.4 -1.3l-6.1 -0.9l-91.7 0.2l-8.6 -0.5l-3.5 -1.5l-2 -2.4l-1 -2.4l-1.2 -7.1l-2.1 -3.6l-2.4 -1.6l-2.5 -0.7l-7.3 -0.5ZM112.1 73.6l-10.3 9.9l-1 2.3l-2.1 9.6l-1.2 1.8l-2.5 1.7l-6.1 1.1l-29.3 0.1l-3.7 0.7l-2.4 1.2l-2.3 2.9l-0.9 3.6l0.3 4.8l1.6 3.5l2.5 1.9l4.9 1.1l22 -0.1l4.9 -1.5l6.1 -5l2.4 -0.5l2.5 1l1.2 1.5l2.4 8.8l1.3 1.9l2.4 1.1l2.5 -0.8l1.2 -1.5l0.9 -3l0.6 -12l0.9 -4.5l1.5 -2.7l5.7 -5.9l1.1 -2.4l0.7 -3.6l-0.1 -9.6l-0.8 -4.7l-1.5 -2.4l-1.7 -1l-1.2 -0.2ZM268.5 10.5l31.9 -0.4l4.9 1.2l2.5 1.9l1.6 3.3l0.5 3.6l0 20.3l-0.6 3.6l-1 2.4l-5.5 7.2l0.1 2.4l2.4 2.6l4.9 1l4.9 -0.8l2.4 -1.4l6.2 -5.7l4.8 -1.4l3.7 0.1l3.7 1.1l6.1 4.9l2.4 1l2.5 -0.3l6.1 -4l2.4 -0.3l2.5 1.5l1 1.6l1.9 8.4l2 3.1l2.4 1.5l2.5 0.7l7.3 0.4l0 80l-7.3 -0.4l-3.7 -1.1l-2.4 -1.9l-14.3 -14.2l-2.9 -1.5l-2.4 -0.5l-3.7 -0.1l-3.6 0.9l-2.5 1.6l-6.1 5.6l-4.9 1.4l-40.3 0l-4.9 -0.9l-2.5 -1.7l-0.6 -1.2l-0.1 -2.4l1.4 -2.4l4.2 -5.1l1.1 -3.2l0.3 -3.6l-0.6 -3.6l-1.1 -2.4l-5.7 -6l-1.4 -2.4l-0.7 -3.5l0.3 -4.8l1.7 -3.5l2.4 -1.9l8.6 -2l2.5 -1.3l1.4 -2.1l-0.1 -2.4l-1.5 -2.4l-7.6 -8.3l-11.4 -10.8l-5.3 -1.7l-11 -0.2l-1 -0.5l-1.6 -5.9l-4.7 -6l-1.3 -2.4l-0.9 -4.8l0.9 -0.4l25.7 0l6.1 -0.6l2.5 -0.9l2.2 -1.7l6.8 -7.1l1.8 -2.4l0.5 -2.4l-1 -2.4l-1.5 -1.2l-3.9 -1.2l-13.5 -0.9l-3.7 -2l-0.8 -1.9l0.7 -2.4l1.4 -1.2ZM338.6 10.5l36.4 -0.5l0 30l-7.3 -0.4l-2.5 -0.6l-2.4 -1.6l-1.9 -3l-2.1 -9.5l-1.7 -2.4l-1.7 -1.3l-4.9 -1.3l-12.2 -0.5l-4.1 -1.7l-1.3 -2.4l0.7 -2.4l2.3 -1.6ZM237.4 60.7l10.5 -0.6l1.2 0.6l-0.1 1.2l-1 3.6l-2.1 2.4l-2.9 1.3l-4.9 0.1l-3.7 -1.4l-1.4 -2.4l0.2 -1.7l1.2 -1.7Z" fill="#f6862c"/><path d="M-15 10.5l6.1 0l3.7 1l2.2 2.6l-0.2 2.4l-0.9 1.2l-2.3 1.3l-8.6 0.7ZM16.9 10.5l7.2 -0.5l35.5 0.2l3.6 0.6l2.1 0.9l1.2 1.2l0.8 2.4l-1.6 3.6l-7.3 7.8l-2.5 1.8l-2.4 0.9l-6.1 0.6l-34.3 -0.1l-1.3 -0.2l-1.4 -1.2l-0.4 -4.8l0.2 -6l0.7 -2.4l1.5 -2.4l1.9 -1.4ZM338.6 10.5l9.5 -0.2l4.9 0.6l3.4 2l0.6 1.2l-0.2 2.4l-2.6 2.2l-3.7 0.9l-9.7 0l-4.5 -0.7l-2.9 -2.1l-0.4 -2.7l1.9 -2.4ZM373.1 12.9l1.9 -0.7l0 17.7l-3.7 -0.5l-1 -2.1l0.1 -9.6l0.9 -2.8ZM185.8 21.3l4.6 -0.8l4.9 1.2l2.9 3.2l0.5 3.6l-2.2 1l-3.7 0.2l-4.9 -0.3l-2.7 -0.9l-1.5 -1.2l-0.8 -2.4l1.1 -2.4ZM202 30.8l6.7 -0.5l4.9 0.8l3 2.1l0.4 2.4l-0.9 1.8l-2.5 1.5l-3.6 0.6l-3.7 -0.6l-2.5 -1.2l-1.7 -2.1l-0.9 -3.6ZM295.7 30.8l3.5 -0.6l3.7 0.3l2.4 0.8l2.5 1.9l1.3 2.4l0.7 3.6l-0.3 3.6l-1.4 3.6l-2.8 2.3l-4.9 1.1l-11 -0.1l-4.9 -1.6l-1.2 -1.3l-0.6 -1.6l1.2 -3.6l8 -8.5ZM5.4 33.2l1.7 0l-0.2 1.2l-1.1 0.8l-1.2 -0.8ZM365.2 33.2l1.2 -0.4l0.8 0.4l-0.8 1.8l-1.2 0.2l-0.5 -0.8ZM127.6 40.4l2.8 -0.2l3.8 0.6l2.4 1.3l1.7 1.9l1.3 3.6l0.1 3.6l-0.7 3.3l-1.2 2.2l-2.4 2l-4.9 1.1l-11 -0.1l-4.9 -1.5l-1.2 -1.3l-0.7 -2.2l1.6 -3.5l7.9 -8.4l2.2 -1.4ZM56.1 60.7l10.8 -0.7l7.3 0.9l3.7 2.5l1.8 4.5l0.2 11.9l-1.3 6l-1.7 2.4l-8.8 8.7l-2.4 1.7l-2.5 0.8l-6.1 0.1l-4.2 -1.7l-9.8 -9.6l-1.7 -2.4l-0.8 -2.4l-0.2 -5.9l2 -4.8l9.8 -10ZM-15 81l0 -1l25.7 0.2l4 0.8l3.2 2.4l1.3 2.4l0.6 3.6l0.1 17.9l-0.7 6l-2.4 3.9l-2.5 1.5l-3.6 1l-3.9 -7.6l-9.6 -9.8l-4.9 -1.9l-7.3 -0.4ZM335.8 81l6.2 -1l33 0l0 40.5l-2.4 0.2l-1.4 1l1 3.6l2.8 1.9l0 22.8l-6.1 -0.2l-3.7 -0.9l-3 -2.1l-1.7 -3.6l-0.5 -7.2l0.6 -8.4l0.7 -2.3l1.5 -2.1l6.6 -3.9l-0.3 -2.4l-1.4 -3.6l-8.9 -9.6l-3.4 -2.4l-4.9 -1.1l-11 -0.2l-1.5 -5.8l-4.3 -6l-1 -2.4l0.4 -2.4ZM327.8 100.2l11.3 0l-0.4 3.5l-2.1 3.6l-3.2 1.8l-3.6 0.6l-28.2 0.3l-22 -0.4l-4.9 -1.4l-1.2 -1.2l-0.6 -2.1l0.6 -1.9l1.2 -1.2l4.9 -1.4ZM145.5 110.9l4.5 -0.7l3.7 0.5l2.9 1.4l2 2.4l1.1 3.6l0.3 4.8l-0.2 8.3l-0.8 3.6l-2.8 3.4l-3.7 1.4l-11 0.4l-6.1 -1l-2.8 -1.8l-1.9 -3.6l-0.4 -4.8l0.7 -3.5l1.9 -3.3l8.6 -8.6ZM9.1 120.5l1.1 1.2l2.2 4.7l1.9 1.8l2.5 1l8.5 2l7.4 5.7l2.4 0.6l3.7 -1.6l13.4 -12.4l1.7 -0.6l2 0l2.5 2l1.2 3.9l0.3 10.8l-1.3 6l-1.5 1.8l-2.4 1.6l-4.9 0.9l-37.9 0.1l-4.9 -0.5l-2.4 -0.9l-2.5 -2l-1.6 -3.4l-0.5 -6l0.4 -8.4l1 -3.5l1.7 -2.4l2.7 -1.7ZM296.5 120.5l6.4 -0.7l9.7 0.6l2.5 1.1l1.5 1.4l0.6 1.2l0 2.3l-1.4 2.4l-9.3 9.3l-4.9 1.6l-4.8 -0.3l-2.7 -1l-2.2 -2.1l-1.2 -2.7l-0.5 -3.6l0.4 -3.6l1.3 -2.7l2 -2Z" fill="#e9522b"/><path d="M49.6 10.5l3.9 0.5l2.9 1.9l0.7 2.4l-1.3 2.4l-2.3 1.3l-3.7 0.5l-3.7 -0.6l-2.4 -1.8l-0.8 -1.8l0.8 -2.5l2.4 -1.6ZM285.2 41.6l4.3 -1.1l4.8 0.8l2.5 2.3l0 2.8l-1.3 1.5l-2.4 1.2l-3.7 0.3l-3.6 -0.7l-1.8 -1.1l-1.1 -2.4l0.8 -2.4ZM6.5 81l5.4 -0.4l3.7 1.5l1.5 2.5l-0.6 2.4l-2.2 1.8l-3.6 0.9l-3.7 -0.4l-2.3 -1.1l-1.4 -1.6l-0.4 -2l1.4 -2.4ZM366.4 81l8.6 -0.8l0 9.8l-7.3 -0.5l-3.7 -1.9l-1 -1.8l0.3 -2.4l1 -1.2ZM369.8 100.2l5.2 -0.2l0 9.8l-8.6 -0.8l-2.4 -1.4l-0.9 -1.5l0 -2.4l0.9 -1.4l2.4 -1.5ZM5.4 101.4l4.1 -1l4.8 0.8l2.6 2.5l0 2.4l-1.3 1.8l-2.5 1.2l-3.6 0.4l-3.7 -0.8l-2 -1.4l-0.9 -2.4l0.9 -2.4ZM298.6 120.5l3.3 0l3.4 0.9l2.1 1.5l1.5 2.4l0.7 3.5l-0.2 3.6l-0.9 2.4l-2 2l-2.4 0.4l-2.5 -1.1l-8.2 -8.5l-0.7 -2.3l0.8 -2.4l2 -1.6ZM27.3 140.8l7.8 -0.5l17.1 0.4l3.7 1.7l1.1 2l0 1.2l-1.5 2.4l-4.5 1.5l-17.1 0.2l-6.1 -0.4l-3.3 -1.3l-1.6 -2.4l0.1 -1.2l1.1 -2Z" fill="#c91f28"/><ellipse cx="327.5" cy="35.5" rx="6.5" ry="5" fill="#8fcff2" transform="rotate(-12 327.5 35.5)"/><ellipse cx="11" cy="104" rx="4.5" ry="15" fill="#e9522b" transform="rotate(-12 11 104)"/><ellipse cx="11" cy="104" rx="2.5" ry="11" fill="#c91f28" transform="rotate(-12 11 104)"/>
<g fill="#d3d3d3" stroke="#000" stroke-width="0.75" vector-effect="non-scaling-stroke" stroke-linejoin="round">
<use href="#landg"/>
<use href="#landg" transform="translate(360 0)"/>
</g>
</g>
<rect x="0" y="0" width="189.2" height="95" fill="none" stroke="#1a1a1a" stroke-width="1.1"/><path d="M0 0v-3.2M0 95v3.2M10.51 0v-1.6M10.51 95v1.6M21.02 0v-1.6M21.02 95v1.6M31.53 0v-3.2M31.53 95v3.2M42.04 0v-1.6M42.04 95v1.6M52.56 0v-1.6M52.56 95v1.6M63.07 0v-3.2M63.07 95v3.2M73.58 0v-1.6M73.58 95v1.6M84.09 0v-1.6M84.09 95v1.6M94.6 0v-3.2M94.6 95v3.2M105.11 0v-1.6M105.11 95v1.6M115.62 0v-1.6M115.62 95v1.6M126.13 0v-3.2M126.13 95v3.2M136.64 0v-1.6M136.64 95v1.6M147.16 0v-1.6M147.16 95v1.6M157.67 0v-3.2M157.67 95v3.2M168.18 0v-1.6M168.18 95v1.6M178.69 0v-1.6M178.69 95v1.6M189.2 0v-3.2M189.2 95v3.2M0 0h-3.2M189.2 0h3.2M0 7.92h-1.6M189.2 7.92h1.6M0 15.83h-1.6M189.2 15.83h1.6M0 23.75h-3.2M189.2 23.75h3.2M0 31.67h-1.6M189.2 31.67h1.6M0 39.58h-1.6M189.2 39.58h1.6M0 47.5h-3.2M189.2 47.5h3.2M0 55.42h-1.6M189.2 55.42h1.6M0 63.33h-1.6M189.2 63.33h1.6M0 71.25h-3.2M189.2 71.25h3.2M0 79.17h-1.6M189.2 79.17h1.6M0 87.08h-1.6M189.2 87.08h1.6M0 95h-3.2M189.2 95h3.2" stroke="#000" stroke-width="0.9" fill="none"/>
<rect x="143.2" y="75.5" width="43.8" height="17" fill="#fff" stroke="#333" stroke-width="0.8"/>
<text x="165.1" y="87.1" font-size="10" text-anchor="middle" fill="#111">(h 2019)</text>
</g>
<text transform="translate(36.6 9.6) scale(0.97 1)" font-size="9.7" text-anchor="end" fill="#111">90<tspan font-size="6.3" dy="-4.5">o</tspan><tspan dy="4.5">N</tspan></text>
<text transform="translate(36.6 33.35) scale(0.97 1)" font-size="9.7" text-anchor="end" fill="#111">45<tspan font-size="6.3" dy="-4.5">o</tspan><tspan dy="4.5">N</tspan></text>
<text transform="translate(36.6 57.1) scale(0.97 1)" font-size="9.7" text-anchor="end" fill="#111">EQ</text>
<text transform="translate(36.6 80.85) scale(0.97 1)" font-size="9.7" text-anchor="end" fill="#111">45<tspan font-size="6.3" dy="-4.5">o</tspan><tspan dy="4.5">S</tspan></text>
<text transform="translate(36.6 104.6) scale(0.97 1)" font-size="9.7" text-anchor="end" fill="#111">90<tspan font-size="6.3" dy="-4.5">o</tspan><tspan dy="4.5">S</tspan></text>
<text transform="translate(9.5 52.6) rotate(-90) scale(0.95 1)" font-size="12.1" text-anchor="middle" fill="#111">Latitude</text>
<text transform="translate(36.6 126.4) scale(0.97 1)" font-size="9.7" text-anchor="end" fill="#111">90<tspan font-size="6.3" dy="-4.5">o</tspan><tspan dy="4.5">N</tspan></text>
<text transform="translate(36.6 150.15) scale(0.97 1)" font-size="9.7" text-anchor="end" fill="#111">45<tspan font-size="6.3" dy="-4.5">o</tspan><tspan dy="4.5">N</tspan></text>
<text transform="translate(36.6 173.9) scale(0.97 1)" font-size="9.7" text-anchor="end" fill="#111">EQ</text>
<text transform="translate(36.6 197.65) scale(0.97 1)" font-size="9.7" text-anchor="end" fill="#111">45<tspan font-size="6.3" dy="-4.5">o</tspan><tspan dy="4.5">S</tspan></text>
<text transform="translate(36.6 221.4) scale(0.97 1)" font-size="9.7" text-anchor="end" fill="#111">90<tspan font-size="6.3" dy="-4.5">o</tspan><tspan dy="4.5">S</tspan></text>
<text transform="translate(9.5 169.4) rotate(-90) scale(0.95 1)" font-size="12.1" text-anchor="middle" fill="#111">Latitude</text>
<text transform="translate(36.6 243.2) scale(0.97 1)" font-size="9.7" text-anchor="end" fill="#111">90<tspan font-size="6.3" dy="-4.5">o</tspan><tspan dy="4.5">N</tspan></text>
<text transform="translate(36.6 266.95) scale(0.97 1)" font-size="9.7" text-anchor="end" fill="#111">45<tspan font-size="6.3" dy="-4.5">o</tspan><tspan dy="4.5">N</tspan></text>
<text transform="translate(36.6 290.7) scale(0.97 1)" font-size="9.7" text-anchor="end" fill="#111">EQ</text>
<text transform="translate(36.6 314.45) scale(0.97 1)" font-size="9.7" text-anchor="end" fill="#111">45<tspan font-size="6.3" dy="-4.5">o</tspan><tspan dy="4.5">S</tspan></text>
<text transform="translate(36.6 338.2) scale(0.97 1)" font-size="9.7" text-anchor="end" fill="#111">90<tspan font-size="6.3" dy="-4.5">o</tspan><tspan dy="4.5">S</tspan></text>
<text transform="translate(9.5 286.2) rotate(-90) scale(0.95 1)" font-size="12.1" text-anchor="middle" fill="#111">Latitude</text>
<text transform="translate(46.5 347.5) scale(0.97 1)" font-size="9.7" text-anchor="middle" fill="#111">0<tspan font-size="6.3" dy="-4.5">o</tspan><tspan dy="4.5"></tspan></text>
<text transform="translate(78.03 347.5) scale(0.97 1)" font-size="9.7" text-anchor="middle" fill="#111">60<tspan font-size="6.3" dy="-4.5">o</tspan><tspan dy="4.5">E</tspan></text>
<text transform="translate(109.57 347.5) scale(0.97 1)" font-size="9.7" text-anchor="middle" fill="#111">120<tspan font-size="6.3" dy="-4.5">o</tspan><tspan dy="4.5">E</tspan></text>
<text transform="translate(141.1 347.5) scale(0.97 1)" font-size="9.7" text-anchor="middle" fill="#111">180<tspan font-size="6.3" dy="-4.5">o</tspan><tspan dy="4.5"></tspan></text>
<text transform="translate(172.63 347.5) scale(0.97 1)" font-size="9.7" text-anchor="middle" fill="#111">120<tspan font-size="6.3" dy="-4.5">o</tspan><tspan dy="4.5">W</tspan></text>
<text transform="translate(204.17 347.5) scale(0.97 1)" font-size="9.7" text-anchor="middle" fill="#111">60<tspan font-size="6.3" dy="-4.5">o</tspan><tspan dy="4.5">W</tspan></text>
<text transform="translate(235.7 347.5) scale(0.97 1)" font-size="9.7" text-anchor="middle" fill="#111">0<tspan font-size="6.3" dy="-4.5">o</tspan><tspan dy="4.5"></tspan></text>
<text transform="translate(141.4 363.1) scale(0.95 1)" font-size="11" text-anchor="middle" fill="#111">Longitude</text>
<text transform="translate(269.3 347.5) scale(0.97 1)" font-size="9.7" text-anchor="middle" fill="#111">0<tspan font-size="6.3" dy="-4.5">o</tspan><tspan dy="4.5"></tspan></text>
<text transform="translate(300.83 347.5) scale(0.97 1)" font-size="9.7" text-anchor="middle" fill="#111">60<tspan font-size="6.3" dy="-4.5">o</tspan><tspan dy="4.5">E</tspan></text>
<text transform="translate(332.37 347.5) scale(0.97 1)" font-size="9.7" text-anchor="middle" fill="#111">120<tspan font-size="6.3" dy="-4.5">o</tspan><tspan dy="4.5">E</tspan></text>
<text transform="translate(363.9 347.5) scale(0.97 1)" font-size="9.7" text-anchor="middle" fill="#111">180<tspan font-size="6.3" dy="-4.5">o</tspan><tspan dy="4.5"></tspan></text>
<text transform="translate(395.43 347.5) scale(0.97 1)" font-size="9.7" text-anchor="middle" fill="#111">120<tspan font-size="6.3" dy="-4.5">o</tspan><tspan dy="4.5">W</tspan></text>
<text transform="translate(426.97 347.5) scale(0.97 1)" font-size="9.7" text-anchor="middle" fill="#111">60<tspan font-size="6.3" dy="-4.5">o</tspan><tspan dy="4.5">W</tspan></text>
<text transform="translate(458.5 347.5) scale(0.97 1)" font-size="9.7" text-anchor="middle" fill="#111">0<tspan font-size="6.3" dy="-4.5">o</tspan><tspan dy="4.5"></tspan></text>
<text transform="translate(364.2 363.1) scale(0.95 1)" font-size="11" text-anchor="middle" fill="#111">Longitude</text>
<path d="M47 375.75 L104.7 371.3 L104.7 380.2 Z" fill="#2155a3"/><rect x="104.7" y="371.3" width="56.9" height="8.9" fill="#3b78c0"/><rect x="161.6" y="371.3" width="56.9" height="8.9" fill="#4f9ad6"/><rect x="218.5" y="371.3" width="56.9" height="8.9" fill="#8fcff2"/><rect x="275.4" y="371.3" width="56.9" height="8.9" fill="#ffffff"/><rect x="332.3" y="371.3" width="56.9" height="8.9" fill="#fdd57a"/><rect x="389.2" y="371.3" width="56.9" height="8.9" fill="#fbac34"/><rect x="446.1" y="371.3" width="56.9" height="8.9" fill="#f6862c"/><rect x="503" y="371.3" width="56.9" height="8.9" fill="#e9522b"/><rect x="559.9" y="371.3" width="56.9" height="8.9" fill="#c91f28"/><path d="M616.8 371.3 L675 375.75 L616.8 380.2 Z" fill="#9b151b"/><path d="M47 375.75 L104.7 371.3 L616.8 371.3 L675 375.75 L616.8 380.2 L104.7 380.2 Z" fill="none" stroke="#333" stroke-width="0.6"/><path d="M104.7 371.3V380.2M161.6 371.3V380.2M218.5 371.3V380.2M275.4 371.3V380.2M332.3 371.3V380.2M389.2 371.3V380.2M446.1 371.3V380.2M503 371.3V380.2M559.9 371.3V380.2M616.8 371.3V380.2" stroke="#333" stroke-width="0.6"/><text x="104.9" y="394.2" font-size="11" letter-spacing="0.35" text-anchor="middle" fill="#111">-1.2</text><text x="161.8" y="394.2" font-size="11" letter-spacing="0.35" text-anchor="middle" fill="#111">-0.9</text><text x="218.7" y="394.2" font-size="11" letter-spacing="0.35" text-anchor="middle" fill="#111">-0.6</text><text x="275.6" y="394.2" font-size="11" letter-spacing="0.35" text-anchor="middle" fill="#111">-0.3</text><text x="332.5" y="394.2" font-size="11" letter-spacing="0.35" text-anchor="middle" fill="#111">0.3</text><text x="389.4" y="394.2" font-size="11" letter-spacing="0.35" text-anchor="middle" fill="#111">0.6</text><text x="446.3" y="394.2" font-size="11" letter-spacing="0.35" text-anchor="middle" fill="#111">0.9</text><text x="503.2" y="394.2" font-size="11" letter-spacing="0.35" text-anchor="middle" fill="#111">1.2</text><text x="560.1" y="394.2" font-size="11" letter-spacing="0.35" text-anchor="middle" fill="#111">1.5</text><text x="617" y="394.2" font-size="11" letter-spacing="0.35" text-anchor="middle" fill="#111">1.8</text><text x="360.8" y="408.7" font-size="12.3" text-anchor="middle" fill="#111">Temperature increase (K)</text>
</svg></body></html>
